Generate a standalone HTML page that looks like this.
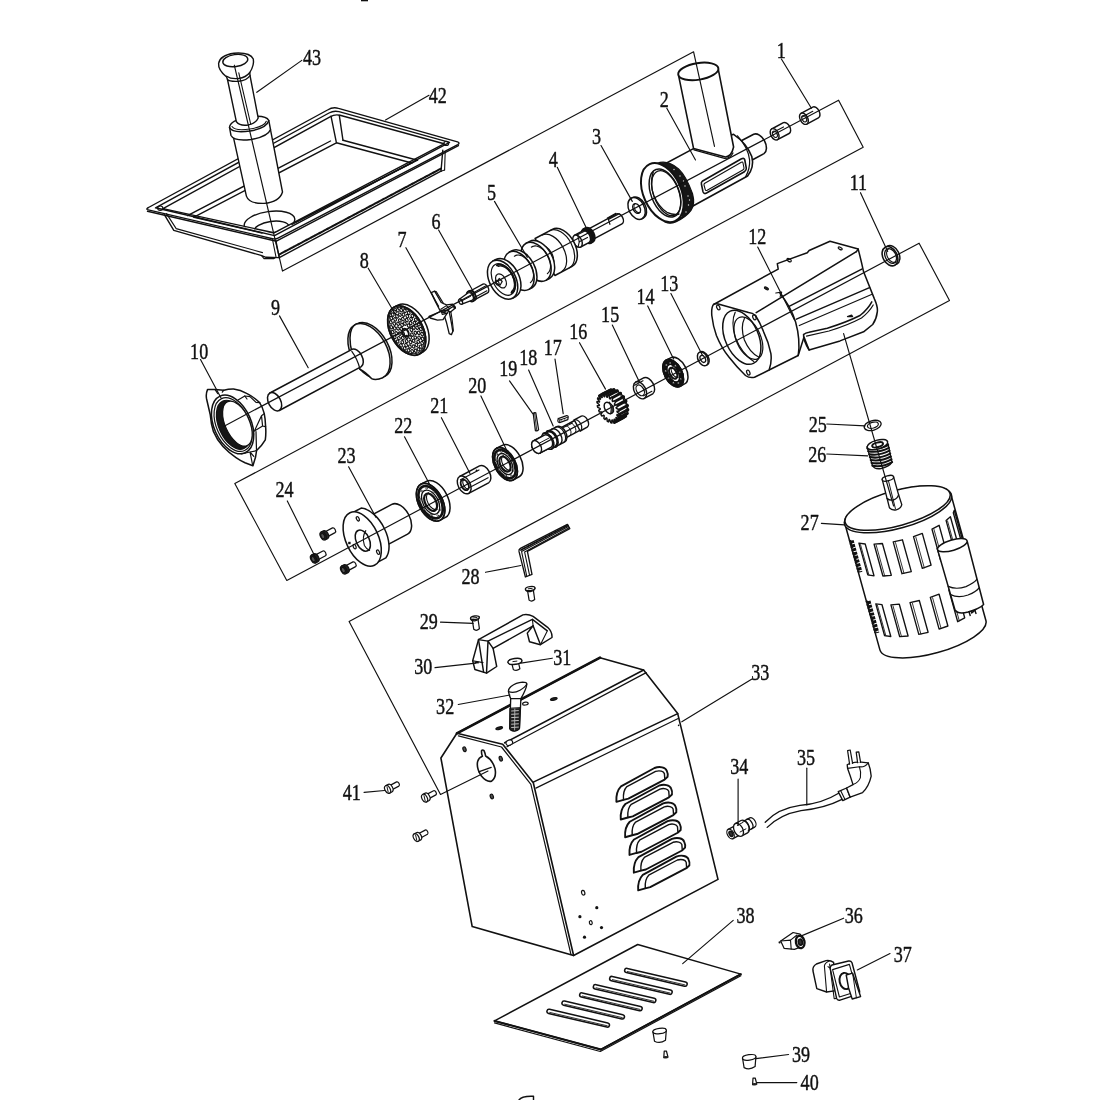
<!DOCTYPE html>
<html><head><meta charset="utf-8"><title>Exploded view</title>
<style>
html,body{margin:0;padding:0;background:#fff;}
body{width:1100px;height:1100px;overflow:hidden;font-family:"Liberation Serif",serif;}
svg{display:block;filter:grayscale(1)}
svg text{font-family:"Liberation Serif",serif;fill:#111;stroke:#111;stroke-width:0.45px}
</style></head><body>
<svg width="1100" height="1100" viewBox="0 0 1100 1100" fill="none" stroke="#111" stroke-width="1.59" stroke-linecap="round" stroke-linejoin="round">
<rect x="0" y="0" width="1100" height="1100" fill="#fff" stroke="none"/>
<ellipse cx="269.5" cy="222.3" rx="25.5" ry="10.8" transform="rotate(-8 269.5 222.3)" stroke-width="1.40"/>
<ellipse cx="271.5" cy="228.6" rx="17.5" ry="7.2" transform="rotate(-8 271.5 228.6)" stroke-width="1.40"/>
<g stroke="none" fill="#fff"><path d="M162.5,208.5 L273.5,233.8 L445,143.5 L459.1,142.7 L442,172 L279.5,258 L262,256 L174,231 L146.7,209.1 Z"/></g>
<path d="M147.2,209.6 Q146.2,208.6 148.5,207.5 L327.5,110 Q333,106.6 338.5,108.4 L457.5,141.8 Q460.3,142.9 457.8,144.6 L278,238.2 Q275.5,239.6 272.5,238.7 Z" stroke-width="1.40" />
<path d="M155.5,207.8 L329,113 Q334,110.2 339,111.7 L449.5,142.3 L274.5,235.6 Z" stroke-width="1.40" />
<path d="M163,208.6 L330,116.8 Q335,114 340,115.3 L444,143.8 L274,232.8 Z" stroke-width="1.40" />
<path d="M458.4,145.6 L276.4,241.2 L147.5,211.2" stroke-width="1.40" />
<ellipse cx="160.3" cy="208.2" rx="2.6" ry="2.2" stroke-width="1.10"/>
<ellipse cx="446.3" cy="143.4" rx="2.4" ry="2.0" stroke-width="1.10"/>
<path d="M331,116.2 L336.2,141.6" stroke-width="1.40" />
<path d="M339.3,115.4 L343,140.4" stroke-width="1.40" />
<path d="M343,140.2 L417.5,160.2" stroke-width="1.40" />
<path d="M336.4,142.8 L411.8,163" stroke-width="1.40" />
<path d="M336.4,142.8 L194,217.2" stroke-width="1.40" />
<path d="M330.5,141 L187.5,215.6" stroke-width="1.40" />
<path d="M194,217.2 L262,233" stroke-width="1.40" />
<path d="M417.5,160.2 L292,224.5" stroke-width="1.40" />
<path d="M411.8,163 L296,222" stroke-width="1.40" />
<path d="M164.5,214.8 L173.8,230.3 L261,255.4 L266,257.3 L279.3,257.6" stroke-width="1.40" />
<path d="M166.5,213.6 L176.2,228.6 L262.5,252.6" stroke-width="1.10" />
<path d="M262,256.2 L264,258.6 L274,258.6 L275.5,257.6" stroke-width="1.10" />
<path d="M275.8,240.5 L279.3,257.6" stroke-width="1.40" />
<path d="M272.5,239.5 L276,257" stroke-width="1.10" />
<path d="M279.3,257.6 L441,171.2" stroke-width="1.40" />
<path d="M279,254.6 L441,168.6" stroke-width="2.07" stroke-dasharray="2.2 0.8"/>
<path d="M441,171.2 L442.8,150.2" stroke-width="1.40" />
<path d="M444.6,170 L445.2,151.2" stroke-width="1.10" />
<path d="M441,171.2 L444.6,170" stroke-width="1.10" />
<path d="M233.6,138.2 L246.4,196.1 Q249,203.8 264.1,203.4 Q279.5,202 282.5,192 L270.3,128.6 Z" stroke-width="1.40" fill="#fff" />
<path d="M229.5,127.3 L231,135.5 Q234,141.5 251,139.5 Q268,136.5 270.5,129.5 L268.8,120.5 Q266,114.5 248,117 Q230,120.5 229.5,127.3 Z" stroke-width="1.40" fill="#fff" />
<path d="M229.5,127.3 Q232,133.5 250,131 Q267,128 268.8,120.5" stroke-width="1.40" />
<path d="M232,126.5 Q235,131.2 250,129 Q264.5,126.5 266.3,121.2" stroke-width="1.10" />
<path d="M227.5,79.5 L236.4,121.8 Q240,126.2 248,125 Q256,123.5 258.2,118 L250,75.5 Z" stroke-width="1.40" fill="#fff" />
<path d="M226.6,77 Q218,70 218.6,63.5 Q220,55 234,53.2 Q250,52 253.3,59 Q254.5,65 249.8,72.5 L250,75.5 Q247,80.5 238.5,81.3 Q229.5,81.8 227.5,79.5 Z" stroke-width="1.40" fill="#fff" />
<ellipse cx="235.3" cy="60.6" rx="12.6" ry="6.0" transform="rotate(-8 235.3 60.6)" stroke-width="1.40"/>
<path d="M226.6,76.2 Q231,79.3 238.5,78.5 Q246,77.5 249.8,72.5" stroke-width="1.40" />
<path d="M238.8,72.8 L250.8,124.5" stroke-width="1.10" />
<path d="M741.3,140.8 L753.7,134.2 A11.0,6.8 62.0 0 1 764.0,153.6 L751.7,160.2 Z" stroke-width="1.59" fill="#fff" />
<path d="M660.5,166.2 L693,148.9 L733.6,134.3 Q746.5,143 751.8,156.5 Q754.5,167 747.6,176 L693.4,205.8 L676,216 Z" stroke-width="1.59" fill="#fff" />
<path d="M737.5,135.8 Q748.5,148 749.6,160 Q750.2,168.5 745.5,177" stroke-width="1.22" />
<path d="M702.2,181.3 L741.5,158.8 Q744.3,157.5 744.8,160 L746.3,168.2 Q746.6,170.4 744.4,171.7 L706.5,193 Q703.6,194.4 702.9,191.4 L701.4,184 Q701,182.2 702.2,181.3 Z" stroke-width="1.59" />
<path d="M704.4,183.4 L741.3,162.2 Q742.7,161.6 743,163 L744,168 Q744.2,169.3 742.8,170.1 L707.2,190.2 Q705.6,191 705.2,189.4 L704,185 Q703.8,183.9 704.4,183.4 Z" stroke-width="1.10" />
<path d="M678.6,75.7 L693.6,148.6 L725.5,157 Q731.5,156.5 733.6,147 L718.2,68.9 Z" stroke-width="1.59" fill="#fff" />
<ellipse cx="698.3" cy="71.4" rx="20.3" ry="8.3" transform="rotate(-9 698.3 71.4)" stroke-width="1.95" fill="#fff"/>
<path d="M694,149.8 L724.5,158.4 Q730,158.7 733,153" stroke-width="1.22" />
<path d="M657,163.5 C664,160.5 672,163.5 678.6,168.9 C684,174 689,184 692.5,193.6 C694.5,201 693.5,207 691,210.4 C688,214.5 682,219 675.7,222 C672,223.5 668,223.5 665,222 L664,193 Z" stroke-width="1.22" fill="#161616" />
<circle cx="680.0" cy="176.0" r="0.7" fill="#ddd" stroke="none"/>
<circle cx="685.0" cy="186.0" r="0.7" fill="#ddd" stroke="none"/>
<circle cx="688.0" cy="196.0" r="0.7" fill="#ddd" stroke="none"/>
<circle cx="688.5" cy="205.0" r="0.7" fill="#ddd" stroke="none"/>
<circle cx="686.0" cy="212.0" r="0.7" fill="#ddd" stroke="none"/>
<circle cx="689.5" cy="200.0" r="0.7" fill="#ddd" stroke="none"/>
<circle cx="683.5" cy="181.0" r="0.7" fill="#ddd" stroke="none"/>
<circle cx="674.0" cy="169.5" r="0.7" fill="#ddd" stroke="none"/>
<circle cx="681.0" cy="216.0" r="0.7" fill="#ddd" stroke="none"/>
<ellipse cx="662.3" cy="192.6" rx="18.8" ry="31.2" transform="rotate(-24 662.3 192.6)" stroke-width="1.95" fill="#fff"/>
<ellipse cx="665.0" cy="193.0" rx="14.0" ry="25.2" transform="rotate(-21 665.0 193.0)" stroke-width="1.46"/>
<ellipse cx="666.2" cy="193.2" rx="12.6" ry="23.6" transform="rotate(-21 666.2 193.2)" stroke-width="1.22"/>
<path d="M653.2,172 Q649.5,184 653.8,195.5 Q659,207.5 667,212.3 Q674,215.5 679,214" stroke-width="1.34" />
<path d="M801.0,113.3 L812.7,107.1 A6.1,3.8 62.0 0 1 818.4,117.9 L806.8,124.1 Z" stroke-width="1.46" fill="#fff" />
<ellipse cx="803.9" cy="118.7" rx="3.8" ry="6.1" transform="rotate(-28.05 803.9 118.7)" stroke-width="1.46" fill="#fff"/>
<ellipse cx="804.2" cy="118.7" rx="2.1" ry="3.4" transform="rotate(-28.05 804.2 118.7)" stroke-width="1.10"/>
<line x1="802.2" y1="117.0" x2="812.8" y2="111.3" stroke-width="1.10" />
<path d="M771.7,129.0 L783.4,122.7 A6.1,3.8 62.0 0 1 789.1,133.5 L777.5,139.7 Z" stroke-width="1.46" fill="#fff" />
<ellipse cx="774.6" cy="134.3" rx="3.8" ry="6.1" transform="rotate(-28.05 774.6 134.3)" stroke-width="1.46" fill="#fff"/>
<ellipse cx="774.9" cy="134.3" rx="2.1" ry="3.4" transform="rotate(-28.05 774.9 134.3)" stroke-width="1.10"/>
<line x1="772.9" y1="132.6" x2="783.5" y2="126.9" stroke-width="1.10" />
<ellipse cx="637.9" cy="207.8" rx="7.7" ry="11.6" transform="rotate(-28.05 637.9 207.8)" stroke-width="1.46" fill="#fff"/>
<ellipse cx="636.6" cy="208.5" rx="7.7" ry="11.6" transform="rotate(-28.05 636.6 208.5)" stroke-width="1.46" fill="#fff"/>
<ellipse cx="636.6" cy="208.5" rx="3.4" ry="5.2" transform="rotate(-28.05 636.6 208.5)" stroke-width="1.46"/>
<path d="M635.4,203.5 A5.0,3.3 62.0 0 0 640.2,212.3" stroke-width="1.10" />
<path d="M585.0,230.9 L616.7,213.9 A5.6,3.5 62.0 0 1 622.0,223.8 L590.2,240.8 Z" stroke-width="1.46" fill="#fff" />
<path d="M608.4,219.4 L609.9,224.3" stroke-width="1.22" />
<path d="M608.4,219.4 L619.2,213.7 M607.4,218.0 L615.9,213.4" stroke-width="1.22" />
<path d="M583.6,229.3 L585.5,228.3 A7.6,4.7 62.0 0 1 592.7,241.7 L590.7,242.8 Z" stroke-width="2.44" fill="#222" />
<ellipse cx="587.2" cy="236.0" rx="4.7" ry="7.6" transform="rotate(-28.05 587.2 236.0)" stroke-width="2.44" fill="#222"/>
<path d="M574.3,235.4 L582.7,230.9 A6.6,4.1 62.0 0 1 588.9,242.6 L580.6,247.0 Z" stroke-width="1.46" fill="#fff" />
<ellipse cx="577.5" cy="241.2" rx="4.1" ry="6.6" transform="rotate(-28.05 577.5 241.2)" stroke-width="1.46" fill="#fff"/>
<line x1="577.5" y1="234.8" x2="585.9" y2="230.4" stroke-width="1.10" />
<line x1="579.3" y1="241.7" x2="587.5" y2="237.4" stroke-width="1.10" />
<line x1="577.5" y1="234.8" x2="579.3" y2="241.7" stroke-width="1.10" />
<line x1="579.3" y1="241.7" x2="578.0" y2="247.4" stroke-width="1.10" />
<path d="M535.1,238.5 L552.3,229.3 A21.0,13.0 62.0 0 1 572.1,266.4 L554.9,275.5 Z" stroke-width="1.52" fill="#fff" />
<path d="M549.7,230.7 A21.0,13.0 62.0 0 1 569.4,267.8" stroke-width="1.22" />
<path d="M542.3,235.0 A20.7,12.8 62.0 0 1 561.8,271.5" stroke-width="1.22" />
<path d="M499.6,267.9 L540.2,246.3 A11.5,7.1 62.0 0 1 551.0,266.6 L510.4,288.2 Z" stroke-width="1.22" fill="#fff" />
<path d="M526.1,243.3 L529.7,241.4 A21.0,13.0 62.0 0 1 549.4,278.5 L545.9,280.3 Z" stroke-width="1.52" fill="#fff" />
<ellipse cx="536.0" cy="261.8" rx="13.0" ry="21.0" transform="rotate(-28.05 536.0 261.8)" stroke-width="1.52" fill="#fff"/>
<path d="M531.4,247.1 C531.8,246.9 532.8,246.3 533.7,246.1 C534.5,245.9 535.4,245.9 536.4,246.0 C537.3,246.2 538.3,246.5 539.3,247.0 C540.2,247.4 541.2,248.1 542.1,248.8 C543.1,249.5 544.0,250.4 544.9,251.4 C545.7,252.4 546.5,253.5 547.2,254.6 C547.9,255.8 548.5,257.0 549.0,258.3 C549.5,259.5 549.9,260.8 550.1,262.0 C550.4,263.3 550.6,264.5 550.6,265.7 C550.6,266.8 550.5,268.0 550.2,269.0 C550.0,270.0 549.6,270.9 549.1,271.7 C548.7,272.4 547.7,273.3 547.4,273.6" stroke-width="1.22" />
<path d="M509.1,252.3 L512.7,250.5 A21.0,13.0 62.0 0 1 532.4,287.5 L528.9,289.4 Z" stroke-width="1.52" fill="#fff" />
<ellipse cx="519.0" cy="270.9" rx="13.0" ry="21.0" transform="rotate(-28.05 519.0 270.9)" stroke-width="1.52" fill="#fff"/>
<path d="M514.4,256.2 C514.8,256.0 515.8,255.3 516.7,255.1 C517.5,255.0 518.4,254.9 519.4,255.1 C520.3,255.2 521.3,255.6 522.3,256.0 C523.2,256.5 524.2,257.1 525.1,257.9 C526.1,258.6 527.0,259.5 527.9,260.5 C528.7,261.5 529.5,262.6 530.2,263.7 C530.9,264.9 531.5,266.1 532.0,267.3 C532.5,268.6 532.9,269.9 533.1,271.1 C533.4,272.3 533.6,273.6 533.6,274.7 C533.6,275.9 533.5,277.0 533.2,278.0 C533.0,279.0 532.6,279.9 532.1,280.7 C531.7,281.5 530.7,282.3 530.4,282.6" stroke-width="1.22" />
<path d="M492.7,261.2 L495.9,259.5 A21.0,13.0 62.0 0 1 515.7,296.6 L512.5,298.2 Z" stroke-width="1.52" fill="#fff" />
<ellipse cx="502.6" cy="279.7" rx="13.0" ry="21.0" transform="rotate(-28.05 502.6 279.7)" stroke-width="1.52" fill="#fff"/>
<ellipse cx="503.2" cy="279.5" rx="10.2" ry="17.0" transform="rotate(-28.05 503.2 279.5)" stroke-width="1.22"/>
<path d="M496.9,265.3 A15.6,9.4 62.0 0 1 511.5,292.9" stroke-width="1.95" />
<path d="M498.1,266.4 A14.2,8.5 62.0 0 1 511.5,291.4" stroke-width="1.22" />
<ellipse cx="501.0" cy="280.9" rx="4.7" ry="7.6" transform="rotate(-28.05 501.0 280.9)" stroke-width="1.22"/>
<path d="M495.8,282.9 L499.2,278.5 L502.2,281.5 L500.0,285.3 Z" stroke-width="1.22" fill="#fff" />
<ellipse cx="497.2" cy="282.7" rx="1.6" ry="2.6" transform="rotate(-28.05 497.2 282.7)" stroke-width="1.10"/>
<path d="M470.2,291.0 L483.0,284.2 A4.9,3.0 62.0 0 1 487.6,292.9 L474.8,299.7 Z" stroke-width="1.34" fill="#fff" />
<ellipse cx="472.5" cy="295.4" rx="3.0" ry="4.9" transform="rotate(-28.05 472.5 295.4)" stroke-width="1.34" fill="#fff"/>
<line x1="473.9" y1="292.4" x2="486.0" y2="285.8" stroke-width="1.10" />
<line x1="474.9" y1="297.2" x2="486.9" y2="290.8" stroke-width="1.10" />
<path d="M467.8,291.7 L469.6,290.8 A5.4,3.3 62.0 0 1 474.7,300.3 L472.9,301.3 Z" stroke-width="1.71" fill="#fff" />
<ellipse cx="470.4" cy="296.5" rx="3.3" ry="5.4" transform="rotate(-28.05 470.4 296.5)" stroke-width="1.71" fill="#fff"/>
<path d="M459.3,299.2 L468.3,292.8 A4.2,2.6 62.0 0 1 472.3,300.2 L461.9,304.2 Z" stroke-width="1.34" fill="#fff" />
<ellipse cx="460.6" cy="301.7" rx="1.7" ry="2.8" transform="rotate(-28.05 460.6 301.7)" stroke-width="1.34" fill="#fff"/>
<line x1="461.6" y1="301.1" x2="470.6" y2="296.3" stroke-width="0.98" />
<path d="M431.2,292.6 L434.6,291.2 Q437.5,296 441.2,302.5 L446.5,304.8 L452.8,304.2 L453.6,306.8 L447.5,310 L440.5,311.5 Q435,301 431.2,292.6 Z" stroke-width="1.34" fill="#fff" />
<path d="M434.6,291.2 L436.2,291.6 Q440.5,298.5 443.5,303.6" stroke-width="1.10" />
<path d="M443.2,312.5 L448.6,309.6 Q450.8,318 452.8,331.5 L451.4,334.6 L449.2,333.6 Q446.8,322 443.2,312.5 Z" stroke-width="1.34" fill="#fff" />
<path d="M448.6,309.6 L450.6,310.2 Q452.4,320 453.4,330.5 L452.8,331.5" stroke-width="1.10" />
<path d="M429.2,316.4 L440.5,311.5 L447,313.5 L443,319.6 L437.5,320.2 L430.2,318 Z" stroke-width="1.34" fill="#fff" />
<path d="M447.5,310 L454.4,305.8 L455.4,308 L450.2,312.2 Z" stroke-width="1.34" fill="#fff" />
<path d="M440.8,309.2 L446.4,305.6 L449.4,308.4 L447.2,313.4 L442.2,314.4 Z" stroke-width="1.10" />
<circle cx="454.6" cy="307.6" r="1.3" fill="#111" stroke="none"/>
<circle cx="429.6" cy="316.8" r="1.1" fill="#111" stroke="none"/>
<path d="M394.2,307.2 L398.3,305.0 A26.6,16.2 62.0 0 1 423.3,351.9 L419.2,354.1 Z" stroke-width="1.52" fill="#fff" />
<ellipse cx="406.7" cy="330.6" rx="16.2" ry="26.6" transform="rotate(-28.05 406.7 330.6)" stroke-width="1.52" fill="#fff"/>
<ellipse cx="406.7" cy="330.6" rx="16.2" ry="26.6" transform="rotate(-28.05 406.7 330.6)" stroke-width="1.83" fill="#fff"/>
<ellipse cx="418.7" cy="324.3" rx="1.25" ry="1.75" transform="rotate(-28 418.7 324.3)" stroke-width="1.15"/>
<ellipse cx="420.8" cy="329.1" rx="1.25" ry="1.75" transform="rotate(-28 420.8 329.1)" stroke-width="1.15"/>
<ellipse cx="422.1" cy="334.1" rx="1.25" ry="1.75" transform="rotate(-28 422.1 334.1)" stroke-width="1.15"/>
<ellipse cx="422.6" cy="338.9" rx="1.25" ry="1.75" transform="rotate(-28 422.6 338.9)" stroke-width="1.15"/>
<ellipse cx="422.1" cy="343.1" rx="1.25" ry="1.75" transform="rotate(-28 422.1 343.1)" stroke-width="1.15"/>
<ellipse cx="420.7" cy="346.7" rx="1.25" ry="1.75" transform="rotate(-28 420.7 346.7)" stroke-width="1.15"/>
<ellipse cx="418.5" cy="349.3" rx="1.25" ry="1.75" transform="rotate(-28 418.5 349.3)" stroke-width="1.15"/>
<ellipse cx="415.6" cy="350.8" rx="1.25" ry="1.75" transform="rotate(-28 415.6 350.8)" stroke-width="1.15"/>
<ellipse cx="412.2" cy="351.2" rx="1.25" ry="1.75" transform="rotate(-28 412.2 351.2)" stroke-width="1.15"/>
<ellipse cx="408.5" cy="350.4" rx="1.25" ry="1.75" transform="rotate(-28 408.5 350.4)" stroke-width="1.15"/>
<ellipse cx="404.7" cy="348.4" rx="1.25" ry="1.75" transform="rotate(-28 404.7 348.4)" stroke-width="1.15"/>
<ellipse cx="401.0" cy="345.4" rx="1.25" ry="1.75" transform="rotate(-28 401.0 345.4)" stroke-width="1.15"/>
<ellipse cx="397.6" cy="341.5" rx="1.25" ry="1.75" transform="rotate(-28 397.6 341.5)" stroke-width="1.15"/>
<ellipse cx="394.7" cy="337.0" rx="1.25" ry="1.75" transform="rotate(-28 394.7 337.0)" stroke-width="1.15"/>
<ellipse cx="392.6" cy="332.1" rx="1.25" ry="1.75" transform="rotate(-28 392.6 332.1)" stroke-width="1.15"/>
<ellipse cx="391.3" cy="327.2" rx="1.25" ry="1.75" transform="rotate(-28 391.3 327.2)" stroke-width="1.15"/>
<ellipse cx="390.8" cy="322.4" rx="1.25" ry="1.75" transform="rotate(-28 390.8 322.4)" stroke-width="1.15"/>
<ellipse cx="391.3" cy="318.1" rx="1.25" ry="1.75" transform="rotate(-28 391.3 318.1)" stroke-width="1.15"/>
<ellipse cx="392.7" cy="314.6" rx="1.25" ry="1.75" transform="rotate(-28 392.7 314.6)" stroke-width="1.15"/>
<ellipse cx="394.9" cy="311.9" rx="1.25" ry="1.75" transform="rotate(-28 394.9 311.9)" stroke-width="1.15"/>
<ellipse cx="397.8" cy="310.4" rx="1.25" ry="1.75" transform="rotate(-28 397.8 310.4)" stroke-width="1.15"/>
<ellipse cx="401.2" cy="310.1" rx="1.25" ry="1.75" transform="rotate(-28 401.2 310.1)" stroke-width="1.15"/>
<ellipse cx="404.9" cy="310.9" rx="1.25" ry="1.75" transform="rotate(-28 404.9 310.9)" stroke-width="1.15"/>
<ellipse cx="408.7" cy="312.9" rx="1.25" ry="1.75" transform="rotate(-28 408.7 312.9)" stroke-width="1.15"/>
<ellipse cx="412.4" cy="315.9" rx="1.25" ry="1.75" transform="rotate(-28 412.4 315.9)" stroke-width="1.15"/>
<ellipse cx="415.8" cy="319.8" rx="1.25" ry="1.75" transform="rotate(-28 415.8 319.8)" stroke-width="1.15"/>
<ellipse cx="417.1" cy="327.8" rx="1.25" ry="1.75" transform="rotate(-28 417.1 327.8)" stroke-width="1.15"/>
<ellipse cx="418.7" cy="332.9" rx="1.25" ry="1.75" transform="rotate(-28 418.7 332.9)" stroke-width="1.15"/>
<ellipse cx="419.1" cy="337.7" rx="1.25" ry="1.75" transform="rotate(-28 419.1 337.7)" stroke-width="1.15"/>
<ellipse cx="418.3" cy="341.8" rx="1.25" ry="1.75" transform="rotate(-28 418.3 341.8)" stroke-width="1.15"/>
<ellipse cx="416.4" cy="344.9" rx="1.25" ry="1.75" transform="rotate(-28 416.4 344.9)" stroke-width="1.15"/>
<ellipse cx="413.5" cy="346.5" rx="1.25" ry="1.75" transform="rotate(-28 413.5 346.5)" stroke-width="1.15"/>
<ellipse cx="409.9" cy="346.6" rx="1.25" ry="1.75" transform="rotate(-28 409.9 346.6)" stroke-width="1.15"/>
<ellipse cx="406.1" cy="345.1" rx="1.25" ry="1.75" transform="rotate(-28 406.1 345.1)" stroke-width="1.15"/>
<ellipse cx="402.3" cy="342.2" rx="1.25" ry="1.75" transform="rotate(-28 402.3 342.2)" stroke-width="1.15"/>
<ellipse cx="398.9" cy="338.2" rx="1.25" ry="1.75" transform="rotate(-28 398.9 338.2)" stroke-width="1.15"/>
<ellipse cx="396.3" cy="333.4" rx="1.25" ry="1.75" transform="rotate(-28 396.3 333.4)" stroke-width="1.15"/>
<ellipse cx="394.7" cy="328.4" rx="1.25" ry="1.75" transform="rotate(-28 394.7 328.4)" stroke-width="1.15"/>
<ellipse cx="394.3" cy="323.6" rx="1.25" ry="1.75" transform="rotate(-28 394.3 323.6)" stroke-width="1.15"/>
<ellipse cx="395.1" cy="319.4" rx="1.25" ry="1.75" transform="rotate(-28 395.1 319.4)" stroke-width="1.15"/>
<ellipse cx="397.0" cy="316.4" rx="1.25" ry="1.75" transform="rotate(-28 397.0 316.4)" stroke-width="1.15"/>
<ellipse cx="399.9" cy="314.7" rx="1.25" ry="1.75" transform="rotate(-28 399.9 314.7)" stroke-width="1.15"/>
<ellipse cx="403.5" cy="314.6" rx="1.25" ry="1.75" transform="rotate(-28 403.5 314.6)" stroke-width="1.15"/>
<ellipse cx="407.3" cy="316.1" rx="1.25" ry="1.75" transform="rotate(-28 407.3 316.1)" stroke-width="1.15"/>
<ellipse cx="411.1" cy="319.0" rx="1.25" ry="1.75" transform="rotate(-28 411.1 319.0)" stroke-width="1.15"/>
<ellipse cx="414.5" cy="323.0" rx="1.25" ry="1.75" transform="rotate(-28 414.5 323.0)" stroke-width="1.15"/>
<ellipse cx="413.7" cy="327.6" rx="1.25" ry="1.75" transform="rotate(-28 413.7 327.6)" stroke-width="1.15"/>
<ellipse cx="415.4" cy="332.8" rx="1.25" ry="1.75" transform="rotate(-28 415.4 332.8)" stroke-width="1.15"/>
<ellipse cx="415.3" cy="337.5" rx="1.25" ry="1.75" transform="rotate(-28 415.3 337.5)" stroke-width="1.15"/>
<ellipse cx="413.6" cy="340.8" rx="1.25" ry="1.75" transform="rotate(-28 413.6 340.8)" stroke-width="1.15"/>
<ellipse cx="410.5" cy="342.1" rx="1.25" ry="1.75" transform="rotate(-28 410.5 342.1)" stroke-width="1.15"/>
<ellipse cx="406.6" cy="341.2" rx="1.25" ry="1.75" transform="rotate(-28 406.6 341.2)" stroke-width="1.15"/>
<ellipse cx="402.8" cy="338.1" rx="1.25" ry="1.75" transform="rotate(-28 402.8 338.1)" stroke-width="1.15"/>
<ellipse cx="399.7" cy="333.6" rx="1.25" ry="1.75" transform="rotate(-28 399.7 333.6)" stroke-width="1.15"/>
<ellipse cx="398.0" cy="328.5" rx="1.25" ry="1.75" transform="rotate(-28 398.0 328.5)" stroke-width="1.15"/>
<ellipse cx="398.1" cy="323.8" rx="1.25" ry="1.75" transform="rotate(-28 398.1 323.8)" stroke-width="1.15"/>
<ellipse cx="399.8" cy="320.5" rx="1.25" ry="1.75" transform="rotate(-28 399.8 320.5)" stroke-width="1.15"/>
<ellipse cx="402.9" cy="319.1" rx="1.25" ry="1.75" transform="rotate(-28 402.9 319.1)" stroke-width="1.15"/>
<ellipse cx="406.8" cy="320.1" rx="1.25" ry="1.75" transform="rotate(-28 406.8 320.1)" stroke-width="1.15"/>
<ellipse cx="410.6" cy="323.1" rx="1.25" ry="1.75" transform="rotate(-28 410.6 323.1)" stroke-width="1.15"/>
<ellipse cx="411.4" cy="329.9" rx="1.25" ry="1.75" transform="rotate(-28 411.4 329.9)" stroke-width="1.15"/>
<ellipse cx="412.0" cy="334.6" rx="1.25" ry="1.75" transform="rotate(-28 412.0 334.6)" stroke-width="1.15"/>
<ellipse cx="410.1" cy="337.4" rx="1.25" ry="1.75" transform="rotate(-28 410.1 337.4)" stroke-width="1.15"/>
<ellipse cx="406.6" cy="337.1" rx="1.25" ry="1.75" transform="rotate(-28 406.6 337.1)" stroke-width="1.15"/>
<ellipse cx="403.1" cy="333.7" rx="1.25" ry="1.75" transform="rotate(-28 403.1 333.7)" stroke-width="1.15"/>
<ellipse cx="401.3" cy="328.9" rx="1.25" ry="1.75" transform="rotate(-28 401.3 328.9)" stroke-width="1.15"/>
<ellipse cx="402.0" cy="324.9" rx="1.25" ry="1.75" transform="rotate(-28 402.0 324.9)" stroke-width="1.15"/>
<ellipse cx="404.9" cy="323.6" rx="1.25" ry="1.75" transform="rotate(-28 404.9 323.6)" stroke-width="1.15"/>
<ellipse cx="408.6" cy="325.6" rx="1.25" ry="1.75" transform="rotate(-28 408.6 325.6)" stroke-width="1.15"/>
<ellipse cx="405.5" cy="332.8" rx="2.9" ry="4.2" transform="rotate(-28.05 405.5 332.8)" stroke-width="1.95"/>
<ellipse cx="406.7" cy="330.6" rx="15.2" ry="25.0" transform="rotate(-28.05 406.7 330.6)" stroke-width="0.98"/>
<ellipse cx="370.9" cy="350.1" rx="17.9" ry="29.8" transform="rotate(-28.05 370.9 350.1)" stroke-width="1.52" fill="#fff"/>
<ellipse cx="369.0" cy="351.1" rx="17.9" ry="29.8" transform="rotate(-28.05 369.0 351.1)" stroke-width="1.52" fill="#fff"/>
<path d="M351.8,351.4 Q349.6,343 350.4,332 Q351.6,326 356.2,324 L369.6,352 L383,377.4 Q376,380.4 371.5,378.6 Q365.5,372 360,369.2 Z" fill="#fff" stroke="none"/>
<path d="M356.2,324 Q350.2,326.5 350,338 Q350,346 351.8,351.4" stroke-width="1.52" />
<path d="M383,377.6 Q376,380.6 371.5,378.6 Q365.5,372 360,369.2" stroke-width="1.52" />
<path d="M269.9,393.0 L352.0,349.3 A9.9,6.1 62.0 0 1 361.3,366.7 L279.3,410.5 Z" stroke-width="1.52" fill="#fff" />
<ellipse cx="274.6" cy="401.7" rx="6.1" ry="9.9" transform="rotate(-28.05 274.6 401.7)" stroke-width="1.52" fill="#fff"/>
<path d="M351.8,351.4 Q357.5,359 360,369.2" stroke-width="1.22" />
<path d="M207.5,389.6 Q205.6,394 206.6,399 L210.2,414.5 Q211,424 213.4,431.4 Q217,440 223,446.6 Q229,453 236,457.6 Q241,461 245,462.8 L252.9,465.7 L255.5,457.3 L256.6,450.5 Q262,445.5 265.3,439.8 Q266.2,433 265.6,426.4 Q265.4,419 264.2,413.4 Q262.6,407 259.6,402.6 Q254,397 246.6,393.4 Q240.5,390 233.6,389.1 Q228.6,389 223.8,390.2 L215.1,389.6 Z" stroke-width="1.52" fill="#fff" />
<path d="M222.3,392.2 L223.8,390.2 M215.1,389.6 L217.8,393.6" stroke-width="1.22" />
<path d="M238,400 L244.8,396 L250,396.6 L256,402.4 L259.8,402.7" stroke-width="1.22" />
<path d="M244.8,396 L247,399" stroke-width="1.22" />
<path d="M254.4,431.1 L261.5,415.8 L264.2,413.6 M254.4,431.1 L262.6,426 L265.3,426.7 M256,431.6 L256.5,450.7 M261.5,415.8 L262.6,426" stroke-width="1.22" />
<path d="M241.3,454 L250,452 L256.5,450.7 M250,452 L252.7,465.5 M250,452 L253.8,456.4" stroke-width="1.22" />
<ellipse cx="232.6" cy="424.4" rx="18.6" ry="31.0" transform="rotate(-24 232.6 424.4)" stroke-width="1.52" fill="#fff"/>
<ellipse cx="233.1" cy="424.6" rx="16.6" ry="28.4" transform="rotate(-24 233.1 424.6)" stroke-width="1.22"/>
<ellipse cx="233.4" cy="424.8" rx="14.6" ry="26.0" transform="rotate(-24 233.4 424.8)" stroke-width="1.22" fill="#161616"/>
<ellipse cx="237.4" cy="423.6" rx="12.2" ry="24.0" transform="rotate(-24 237.4 423.6)" stroke-width="1.22" fill="#fff"/>
<path d="M713.6,304.5 L778.2,269.1 L777.3,263.6 L807.3,252.7 L809.1,250.5 L830,241.3 L858.2,249.1 Q861.5,262 863.6,271.8 L874.5,299.1 Q878,307 877.3,311.8 Q876.5,319 872.7,324.5 L863.6,331.8 L840,340.9 L809.1,350 L804,337 L798.2,355.5 L769.1,370 L755.5,315.5 Z" stroke-width="1.52" fill="#fff" />
<line x1="756.2" y1="312.6" x2="856.4" y2="251.6" stroke-width="1.52" />
<path d="M856.4,251.6 L858.2,249.1" stroke-width="1.52" />
<line x1="789.1" y1="306.4" x2="861.8" y2="269.1" stroke-width="1.52" />
<line x1="796.4" y1="319.1" x2="869.5" y2="287.6" stroke-width="1.52" />
<line x1="799.3" y1="325.5" x2="871.5" y2="294.5" stroke-width="1.22" />
<path d="M780,293.6 Q790.5,306 795.6,322 Q800.6,340 798.2,355.5" stroke-width="1.52" />
<path d="M775.8,293.0 L781.6,292.2 L780.2,296.4" stroke-width="1.22" />
<path d="M803.6,334.5 Q805.5,332.8 809,332.2 L827.3,328.2 Q846,322.5 860,315.5 Q868,309 871.8,301.8" stroke-width="1.52" />
<path d="M806.5,336.2 L829,331 Q848,325.2 861.5,318 Q869,312.2 873.2,305" stroke-width="1.22" />
<path d="M803.6,334.5 Q803,340 809.1,350" stroke-width="1.52" />
<ellipse cx="766.4" cy="288.4" rx="1.0" ry="2.2" transform="rotate(-62 766.4 288.4)" stroke-width="1.22" fill="#222"/>
<ellipse cx="789.1" cy="260.2" rx="1.3" ry="2.4" transform="rotate(-62 789.1 260.2)" stroke-width="1.22"/>
<ellipse cx="840.2" cy="248.4" rx="1.1" ry="2.2" transform="rotate(-62 840.2 248.4)" stroke-width="1.22"/>
<path d="M847.5,316.6 L851.6,315 L852.6,316.6 Z" stroke-width="1.22" fill="#222" />
<path d="M713.6,304.5 Q711.2,307 711.8,315.5 Q713,326 716.4,335.5 Q721.5,348 729.1,357.3 Q737,367.5 745.5,375.5 Q749.5,378.4 754.5,377.3 L769.1,370 Q772,362 770.9,353.6 Q768.6,342 763.6,331.8 Q760,322.5 755.5,315.5 Q752.5,312.8 748.6,312.6 L718.2,304 Q715.4,303.4 713.6,304.5 Z" stroke-width="1.52" fill="#fff" />
<ellipse cx="741.8" cy="337.3" rx="16.6" ry="28.6" transform="rotate(-24 741.8 337.3)" stroke-width="1.52"/>
<path d="M735.2,312.2 Q730.6,322 735.4,337.5 Q741.6,353.5 753.8,361.6" stroke-width="1.22" />
<ellipse cx="748.4" cy="338.2" rx="12.2" ry="22.6" transform="rotate(-24 748.4 338.2)" stroke-width="1.22"/>
<path d="M744.4,318.6 Q740.2,327 744.4,340 Q749.6,352.5 758.6,357" stroke-width="1.22" />
<ellipse cx="718.3" cy="307.5" rx="1.5" ry="2.5" transform="rotate(-24 718.3 307.5)" stroke-width="1.22"/>
<ellipse cx="754.4" cy="317.4" rx="1.5" ry="2.5" transform="rotate(-24 754.4 317.4)" stroke-width="1.22"/>
<ellipse cx="748.3" cy="372.6" rx="1.5" ry="2.5" transform="rotate(-24 748.3 372.6)" stroke-width="1.22"/>
<path d="M323.3,532.8 L332.5,527.9 A2.7,1.7 62.0 0 1 335.1,532.6 L325.8,537.6 Z" stroke-width="1.22" fill="#fff" />
<path d="M321.1,532.0 L323.4,530.8 A4.4,2.7 62.0 0 1 327.6,538.6 L325.3,539.8 Z" stroke-width="1.22" fill="#222" />
<ellipse cx="323.2" cy="535.9" rx="2.7" ry="4.4" transform="rotate(-28.05 323.2 535.9)" stroke-width="1.22" fill="#222"/>
<ellipse cx="322.8" cy="536.1" rx="1.7" ry="2.8" transform="rotate(-28.05 322.8 536.1)" stroke-width="1.10" fill="#555"/>
<path d="M313.7,555.9 L322.9,551.0 A2.7,1.7 62.0 0 1 325.5,555.7 L316.2,560.7 Z" stroke-width="1.22" fill="#fff" />
<path d="M311.5,555.1 L313.8,553.9 A4.4,2.7 62.0 0 1 318.0,561.7 L315.7,562.9 Z" stroke-width="1.22" fill="#222" />
<ellipse cx="313.6" cy="559.0" rx="2.7" ry="4.4" transform="rotate(-28.05 313.6 559.0)" stroke-width="1.22" fill="#222"/>
<ellipse cx="313.2" cy="559.2" rx="1.7" ry="2.8" transform="rotate(-28.05 313.2 559.2)" stroke-width="1.10" fill="#555"/>
<path d="M343.8,566.8 L353.0,561.9 A2.7,1.7 62.0 0 1 355.6,566.6 L346.3,571.6 Z" stroke-width="1.22" fill="#fff" />
<path d="M341.6,566.0 L343.9,564.8 A4.4,2.7 62.0 0 1 348.1,572.6 L345.8,573.8 Z" stroke-width="1.22" fill="#222" />
<ellipse cx="343.7" cy="569.9" rx="2.7" ry="4.4" transform="rotate(-28.05 343.7 569.9)" stroke-width="1.22" fill="#222"/>
<ellipse cx="343.3" cy="570.1" rx="1.7" ry="2.8" transform="rotate(-28.05 343.3 570.1)" stroke-width="1.10" fill="#555"/>
<path d="M370.6,515.7 L391.8,504.4 A16.8,10.1 62.0 0 1 407.6,534.1 L386.4,545.3 Z" stroke-width="1.52" fill="#fff" />
<path d="M350.1,514.0 L361.2,508.1 A29,16.4 62.0 0 1 385.8,557.9 L374.6,563.8 Z" stroke-width="1.52" fill="#fff" />
<ellipse cx="362.2" cy="539.0" rx="16.2" ry="29.0" transform="rotate(-25 362.2 539.0)" stroke-width="1.52" fill="#fff"/>
<ellipse cx="362.8" cy="540.6" rx="6.6" ry="11.2" transform="rotate(-25 362.8 540.6)" stroke-width="1.52"/>
<path d="M365.8,530.6 Q361.7,537.0 364.4,545.5 Q366.7,549.5 369.6,550.4" stroke-width="1.10" />
<ellipse cx="357.8" cy="518.8" rx="1.3" ry="2.3" transform="rotate(-25 357.8 518.8)" stroke-width="1.22"/>
<ellipse cx="378.1" cy="552.2" rx="1.3" ry="2.3" transform="rotate(-25 378.1 552.2)" stroke-width="1.22"/>
<ellipse cx="354.6" cy="546.6" rx="1.3" ry="2.3" transform="rotate(-25 354.6 546.6)" stroke-width="1.22"/>
<rect x="348.2" y="541.8" width="2.4" height="2.4" fill="#111" stroke="none"/>
<path d="M421.0,484.2 L426.3,481.4 A20.4,11.8 62.0 0 1 445.5,517.4 L440.2,520.2 Z" stroke-width="1.52" fill="#fff" />
<ellipse cx="430.6" cy="502.2" rx="11.8" ry="20.4" transform="rotate(-28.05 430.6 502.2)" stroke-width="1.52" fill="#fff"/>
<ellipse cx="430.6" cy="502.2" rx="11.8" ry="20.4" transform="rotate(-28.05 430.6 502.2)" stroke-width="1.83" fill="#fff"/>
<ellipse cx="430.6" cy="502.2" rx="10.2" ry="17.5" transform="rotate(-28.05 430.6 502.2)" stroke-width="2.68"/>
<ellipse cx="430.6" cy="502.2" rx="7.6" ry="13.1" transform="rotate(-28.05 430.6 502.2)" stroke-width="1.34"/>
<ellipse cx="430.6" cy="502.2" rx="5.4" ry="9.4" transform="rotate(-28.05 430.6 502.2)" stroke-width="2.20" fill="#fff"/>
<circle cx="439.6" cy="500.4" r="0.9" fill="#fff" stroke="#111" stroke-width="0.6"/>
<circle cx="441.1" cy="509.9" r="0.9" fill="#fff" stroke="#111" stroke-width="0.6"/>
<circle cx="437.8" cy="515.7" r="0.9" fill="#fff" stroke="#111" stroke-width="0.6"/>
<circle cx="431.1" cy="515.2" r="0.9" fill="#fff" stroke="#111" stroke-width="0.6"/>
<circle cx="424.1" cy="508.7" r="0.9" fill="#fff" stroke="#111" stroke-width="0.6"/>
<circle cx="420.2" cy="499.1" r="0.9" fill="#fff" stroke="#111" stroke-width="0.6"/>
<circle cx="421.2" cy="490.9" r="0.9" fill="#fff" stroke="#111" stroke-width="0.6"/>
<circle cx="426.5" cy="488.1" r="0.9" fill="#fff" stroke="#111" stroke-width="0.6"/>
<circle cx="433.8" cy="491.8" r="0.9" fill="#fff" stroke="#111" stroke-width="0.6"/>
<path d="M428.4,492.7 A9.4,5.4 62.0 0 0 437.2,509.3" stroke-width="1.10" />
<path d="M459.7,476.5 L479.5,465.9 A9.6,6.0 62.0 0 1 488.6,482.8 L468.7,493.4 Z" stroke-width="1.46" fill="#fff" />
<ellipse cx="464.2" cy="484.9" rx="6.0" ry="9.6" transform="rotate(-28.05 464.2 484.9)" stroke-width="1.46" fill="#fff"/>
<ellipse cx="464.8" cy="484.9" rx="3.5" ry="5.6" transform="rotate(-28.05 464.8 484.9)" stroke-width="1.95"/>
<path d="M463.8,479.6 A5.2,3.2 62.0 0 0 468.6,488.7" stroke-width="1.10" />
<line x1="460.5" y1="479.8" x2="479.0" y2="469.9" stroke-width="1.10" />
<line x1="469.6" y1="487.5" x2="488.1" y2="477.7" stroke-width="1.10" />
<circle cx="476.6" cy="470.6" r="1.0" fill="#111" stroke="none"/>
<path d="M496.6,448.3 L502.8,445.1 A17.8,10.3 62.0 0 1 519.5,476.5 L513.4,479.8 Z" stroke-width="1.52" fill="#fff" />
<ellipse cx="505.0" cy="464.1" rx="10.3" ry="17.8" transform="rotate(-28.05 505.0 464.1)" stroke-width="1.52" fill="#fff"/>
<ellipse cx="505.0" cy="464.1" rx="10.3" ry="17.8" transform="rotate(-28.05 505.0 464.1)" stroke-width="1.83" fill="#fff"/>
<ellipse cx="505.0" cy="464.1" rx="8.9" ry="15.3" transform="rotate(-28.05 505.0 464.1)" stroke-width="2.68"/>
<ellipse cx="505.0" cy="464.1" rx="6.6" ry="11.4" transform="rotate(-28.05 505.0 464.1)" stroke-width="1.34"/>
<ellipse cx="505.0" cy="464.1" rx="4.7" ry="8.2" transform="rotate(-28.05 505.0 464.1)" stroke-width="2.20" fill="#fff"/>
<circle cx="512.8" cy="462.5" r="0.9" fill="#fff" stroke="#111" stroke-width="0.6"/>
<circle cx="514.2" cy="470.7" r="0.9" fill="#fff" stroke="#111" stroke-width="0.6"/>
<circle cx="511.3" cy="475.8" r="0.9" fill="#fff" stroke="#111" stroke-width="0.6"/>
<circle cx="505.4" cy="475.4" r="0.9" fill="#fff" stroke="#111" stroke-width="0.6"/>
<circle cx="499.4" cy="469.7" r="0.9" fill="#fff" stroke="#111" stroke-width="0.6"/>
<circle cx="495.9" cy="461.3" r="0.9" fill="#fff" stroke="#111" stroke-width="0.6"/>
<circle cx="496.8" cy="454.2" r="0.9" fill="#fff" stroke="#111" stroke-width="0.6"/>
<circle cx="501.4" cy="451.7" r="0.9" fill="#fff" stroke="#111" stroke-width="0.6"/>
<circle cx="507.8" cy="455.0" r="0.9" fill="#fff" stroke="#111" stroke-width="0.6"/>
<path d="M503.3,455.6 A8.2,4.7 62.0 0 0 511.1,470.1" stroke-width="1.10" />
<path d="M533.2,413.4 Q534.4,412 535.8,412.8 L538.6,429.6 Q537.4,431.4 535.4,430.6 Z" stroke-width="1.22" fill="#fff" />
<line x1="534.6" y1="413.2" x2="536.8" y2="430.6" stroke-width="0.85" />
<path d="M557.4,429.7 L575.5,420.0 A5.6,3.5 62.0 0 1 580.7,429.9 L562.6,439.6 Z" stroke-width="1.46" fill="#fff" />
<path d="M574.2,419.9 L581.3,416.1 A6.3,3.9 62.0 0 1 587.2,427.2 L580.2,431.0 Z" stroke-width="1.46" fill="#fff" />
<path d="M574.2,419.9 A6.3,3.9 62.0 0 1 580.2,431.0" stroke-width="1.22" />
<path d="M564.4,425.9 A5.6,3.5 62.0 0 1 569.7,435.8" stroke-width="0.98" />
<path d="M569.3,423.3 A5.6,3.5 62.0 0 1 574.5,433.2" stroke-width="0.98" />
<line x1="562.5" y1="428.1" x2="572.5" y2="423.1" stroke-width="0.98" />
<path d="M543.5,433.7 L556.7,426.6 A8.6,5.3 62.0 0 1 564.8,441.8 L551.5,448.8 Z" stroke-width="1.46" fill="#fff" />
<path d="M543.5,433.7 A8.6,5.3 62.0 0 1 551.5,448.8" stroke-width="2.44" />
<path d="M547.4,431.5 A8.6,5.3 62.0 0 1 555.5,446.7" stroke-width="2.68" />
<path d="M551.8,429.2 A8.6,5.3 62.0 0 1 559.9,444.4" stroke-width="1.46" />
<path d="M555.4,427.3 A8.6,5.3 62.0 0 1 563.5,442.5" stroke-width="1.22" />
<path d="M533.4,441.0 L544.4,435.1 A6.9,4.3 62.0 0 1 550.9,447.3 L539.8,453.1 Z" stroke-width="1.46" fill="#fff" />
<ellipse cx="536.6" cy="447.0" rx="4.3" ry="6.9" transform="rotate(-28.05 536.6 447.0)" stroke-width="1.46" fill="#fff"/>
<ellipse cx="547.6" cy="441.2" rx="5.3" ry="8.6" transform="rotate(-28.05 547.6 441.2)" stroke-width="1.46" fill="#fff"/>
<path d="M533.4,441.0 L544.4,435.1 A6.9,4.3 62.0 0 1 550.9,447.3 L539.8,453.1 Z" stroke-width="1.46" fill="#fff" />
<ellipse cx="536.6" cy="447.0" rx="4.3" ry="6.9" transform="rotate(-28.05 536.6 447.0)" stroke-width="1.46" fill="#fff"/>
<line x1="539.6" y1="443.0" x2="549.3" y2="437.9" stroke-width="0.98" />
<path d="M558.2,418.6 L566.6,415.6 Q568.2,415.4 568.2,417 L567.8,419.6 L559.6,422.6 Q558,422.6 557.8,421 Z" stroke-width="1.22" fill="#fff" />
<path d="M558.2,418.6 L559.8,420 L567.8,417.2 M559.8,420 L559.6,422.6" stroke-width="0.98" />
<circle cx="561.6" cy="419.8" r="0.8" fill="#111" stroke="none"/><circle cx="564.6" cy="418.8" r="0.8" fill="#111" stroke="none"/>
<path d="M600.9,394.6 L609.7,389.9 A15.6,9.4 62.0 0 1 624.4,417.4 L615.5,422.1 Z" stroke-width="1.22" fill="#fff" />
<line x1="617.2" y1="405.7" x2="626.0" y2="401.0" stroke-width="2.93" />
<line x1="618.7" y1="410.2" x2="627.5" y2="405.5" stroke-width="2.93" />
<line x1="619.1" y1="414.5" x2="627.9" y2="409.8" stroke-width="2.93" />
<line x1="618.5" y1="418.2" x2="627.3" y2="413.5" stroke-width="2.93" />
<line x1="616.9" y1="420.9" x2="625.7" y2="416.2" stroke-width="2.93" />
<line x1="614.4" y1="422.4" x2="623.2" y2="417.7" stroke-width="2.93" />
<line x1="599.5" y1="395.9" x2="608.4" y2="391.2" stroke-width="2.93" />
<line x1="602.0" y1="394.4" x2="610.8" y2="389.7" stroke-width="2.93" />
<line x1="605.1" y1="394.2" x2="613.9" y2="389.5" stroke-width="2.93" />
<line x1="608.5" y1="395.5" x2="617.3" y2="390.8" stroke-width="2.93" />
<line x1="611.8" y1="398.0" x2="620.6" y2="393.3" stroke-width="2.93" />
<line x1="614.8" y1="401.5" x2="623.6" y2="396.8" stroke-width="2.93" />
<path d="M623.7,400.1 L625.9,400.2 L626.6,401.7 L624.9,402.9 L625.2,403.7 L627.6,404.8 L627.9,406.3 L625.8,406.6 L625.9,407.3 L628.2,409.2 L628.2,410.6 L625.9,409.9 L625.7,410.6 L627.8,413.1 L627.4,414.3 L625.0,412.7 L624.7,413.2 L626.3,416.1 L625.5,416.9 L623.4,414.5 L623.0,414.8 L623.9,417.9 L622.9,418.2 L621.2,415.3 L620.6,415.4 L620.8,418.3 L619.7,418.1 L618.5,415.0 L617.9,414.8 L617.3,417.2 L616.2,416.6 L615.7,413.5 L615.1,413.1 L613.9,414.8 L612.8,413.8 L613.1,411.1 L612.5,410.5 L610.7,411.4 L609.8,410.0 L610.8,408.0 L610.4,407.2 L608.2,407.2 L607.5,405.6 L609.1,404.4 L608.8,403.6 L606.5,402.6 L606.2,401.1 L608.2,400.8 L608.1,400.0 L605.8,398.1 L605.9,396.7 L608.2,397.4 L608.3,396.8 L606.3,394.2 L606.7,393.1 L609.0,394.7 L609.3,394.2 L607.8,391.2 L608.5,390.5 L610.6,392.8 L611.1,392.6 L610.2,389.5 L611.2,389.2 L612.9,392.0 L613.5,392.0 L613.3,389.1 L614.4,389.3 L615.5,392.4 L616.2,392.6 L616.7,390.1 L617.9,390.8 L618.3,393.8 L618.9,394.3 L620.2,392.5 L621.3,393.6 L621.0,396.2 L621.5,396.9 L623.3,396.0 L624.3,397.3 L623.3,399.4 Z" stroke-width="1.22" />
<path d="M614.9,404.8 L617.1,404.9 L617.7,406.4 L616.1,407.6 L616.4,408.4 L618.7,409.5 L619.1,411.0 L617.0,411.3 L617.1,412.0 L619.4,413.9 L619.4,415.3 L617.0,414.6 L616.9,415.3 L618.9,417.8 L618.5,419.0 L616.2,417.4 L615.9,417.9 L617.4,420.8 L616.7,421.6 L614.6,419.2 L614.1,419.5 L615.0,422.6 L614.1,422.9 L612.3,420.0 L611.8,420.1 L612.0,423.0 L610.8,422.8 L609.7,419.7 L609.1,419.5 L608.5,421.9 L607.3,421.3 L606.9,418.3 L606.3,417.8 L605.0,419.5 L603.9,418.5 L604.2,415.8 L603.7,415.2 L601.9,416.1 L600.9,414.7 L602.0,412.7 L601.5,411.9 L599.3,411.9 L598.7,410.3 L600.3,409.1 L600.0,408.3 L597.7,407.3 L597.3,405.8 L599.4,405.5 L599.3,404.7 L597.0,402.8 L597.0,401.4 L599.4,402.1 L599.5,401.5 L597.5,398.9 L597.9,397.8 L600.2,399.4 L600.5,398.9 L599.0,395.9 L599.7,395.2 L601.8,397.5 L602.3,397.3 L601.4,394.2 L602.3,393.9 L604.1,396.7 L604.6,396.7 L604.4,393.8 L605.6,394.0 L606.7,397.1 L607.3,397.3 L607.9,394.8 L609.1,395.5 L609.5,398.5 L610.1,399.0 L611.4,397.2 L612.5,398.3 L612.2,400.9 L612.7,401.6 L614.5,400.7 L615.5,402.0 L614.4,404.1 Z" stroke-width="1.46" fill="#fff" />
<ellipse cx="608.6" cy="408.0" rx="3.8" ry="6.2" transform="rotate(-28.05 608.6 408.0)" stroke-width="1.46" fill="#fff"/>
<path d="M609.4,402.2 Q614.6,405.9 613.6,412.0 L610.6,414.0 Q612.6,408.4 609.4,402.2 Z" stroke-width="0.98" fill="#333" />
<path d="M635.7,382.2 L644.1,377.7 A9.2,5.7 62.0 0 1 652.7,393.9 L644.3,398.4 Z" stroke-width="1.46" fill="#fff" />
<ellipse cx="640.0" cy="390.3" rx="5.7" ry="9.2" transform="rotate(-28.05 640.0 390.3)" stroke-width="1.46" fill="#fff"/>
<ellipse cx="640.2" cy="390.3" rx="3.6" ry="5.8" transform="rotate(-28.05 640.2 390.3)" stroke-width="1.22"/>
<line x1="634.6" y1="385.2" x2="643.0" y2="380.7" stroke-width="1.10" />
<line x1="643.5" y1="395.8" x2="651.9" y2="391.3" stroke-width="1.10" />
<path d="M666.2,360.2 L671.1,357.6 A14.8,8.6 62.0 0 1 685.0,383.7 L680.2,386.3 Z" stroke-width="1.52" fill="#fff" />
<ellipse cx="673.2" cy="373.2" rx="8.6" ry="14.8" transform="rotate(-28.05 673.2 373.2)" stroke-width="1.52" fill="#fff"/>
<ellipse cx="673.2" cy="373.2" rx="8.6" ry="14.8" transform="rotate(-28.05 673.2 373.2)" stroke-width="1.83" fill="#fff"/>
<ellipse cx="673.2" cy="373.2" rx="6.9" ry="11.8" transform="rotate(-28.05 673.2 373.2)" stroke-width="5.12"/>
<ellipse cx="673.2" cy="373.2" rx="5.5" ry="9.5" transform="rotate(-28.05 673.2 373.2)" stroke-width="1.34"/>
<ellipse cx="673.2" cy="373.2" rx="3.4" ry="5.9" transform="rotate(-28.05 673.2 373.2)" stroke-width="2.20" fill="#fff"/>
<circle cx="679.7" cy="371.9" r="0.9" fill="#fff" stroke="#111" stroke-width="0.6"/>
<circle cx="680.9" cy="378.8" r="0.9" fill="#fff" stroke="#111" stroke-width="0.6"/>
<circle cx="678.4" cy="383.0" r="0.9" fill="#fff" stroke="#111" stroke-width="0.6"/>
<circle cx="673.5" cy="382.7" r="0.9" fill="#fff" stroke="#111" stroke-width="0.6"/>
<circle cx="668.5" cy="377.9" r="0.9" fill="#fff" stroke="#111" stroke-width="0.6"/>
<circle cx="665.7" cy="370.9" r="0.9" fill="#fff" stroke="#111" stroke-width="0.6"/>
<circle cx="666.4" cy="365.0" r="0.9" fill="#fff" stroke="#111" stroke-width="0.6"/>
<circle cx="670.2" cy="363.0" r="0.9" fill="#fff" stroke="#111" stroke-width="0.6"/>
<circle cx="675.5" cy="365.7" r="0.9" fill="#fff" stroke="#111" stroke-width="0.6"/>
<path d="M672.6,366.8 A5.9,3.4 62.0 0 0 678.2,377.2" stroke-width="1.10" />
<ellipse cx="703.8" cy="358.4" rx="4.7" ry="7.4" transform="rotate(-28.05 703.8 358.4)" stroke-width="1.34" fill="#fff"/>
<ellipse cx="702.8" cy="358.9" rx="4.7" ry="7.4" transform="rotate(-28.05 702.8 358.9)" stroke-width="1.46" fill="#fff"/>
<ellipse cx="702.8" cy="358.9" rx="2.4" ry="3.8" transform="rotate(-28.05 702.8 358.9)" stroke-width="1.34"/>
<ellipse cx="892.0" cy="255.2" rx="7.1" ry="10.2" transform="rotate(-28.05 892.0 255.2)" stroke-width="1.46" fill="#fff"/>
<ellipse cx="890.0" cy="256.2" rx="7.1" ry="10.2" transform="rotate(-28.05 890.0 256.2)" stroke-width="1.59" fill="#fff"/>
<ellipse cx="890.6" cy="256.0" rx="5.3" ry="7.8" transform="rotate(-28.05 890.6 256.0)" stroke-width="1.34"/>
<path d="M888.8,248.5 A7.6,5.2 62.0 0 0 896.0,261.9" stroke-width="1.10" />
<path d="M844.6,522.7 L879.9,649.9 A55.0,18.0 -15.5 0 0 985.9,620.5 L950.6,493.3 Z" stroke-width="1.52" fill="#fff" />
<path d="M858.9,543.1 L865.2,544.0 L874.0,575.8 L867.8,574.9 Z" stroke-width="1.34" fill="#fff" />
<line x1="860.5" y1="544.6" x2="869.0" y2="575.2" stroke-width="0.85" />
<path d="M874.1,544.2 L882.4,543.5 L891.3,575.3 L882.9,576.0 Z" stroke-width="1.34" fill="#fff" />
<line x1="876.2" y1="545.2" x2="884.7" y2="575.9" stroke-width="0.85" />
<path d="M893.2,541.9 L902.4,539.8 L911.3,571.6 L902.0,573.7 Z" stroke-width="1.34" fill="#fff" />
<line x1="895.5" y1="542.6" x2="904.0" y2="573.3" stroke-width="0.85" />
<path d="M913.5,536.6 L922.3,533.4 L931.1,565.2 L922.3,568.4 Z" stroke-width="1.34" fill="#fff" />
<line x1="915.8" y1="537.1" x2="924.3" y2="567.8" stroke-width="0.85" />
<path d="M932.0,529.2 L939.1,525.3 L947.9,557.1 L940.8,561.0 Z" stroke-width="1.34" fill="#fff" />
<line x1="934.0" y1="529.5" x2="942.5" y2="560.1" stroke-width="0.85" />
<path d="M946.1,520.6 L950.4,516.7 L959.2,548.5 L954.9,552.4 Z" stroke-width="1.34" fill="#fff" />
<line x1="947.5" y1="520.9" x2="956.0" y2="551.5" stroke-width="0.85" />
<path d="M953.3,512.7 L954.3,510.2 L963.1,542.0 L962.2,544.5 Z" stroke-width="1.34" fill="#fff" />
<line x1="851.7" y1="540.4" x2="860.5" y2="572.2" stroke-width="3.90" stroke-dasharray="3 1.0" stroke-linecap="butt"/>
<line x1="849.9" y1="540.1" x2="858.7" y2="571.9" stroke-width="2.44" stroke-dasharray="2 1.2" stroke-linecap="butt"/>
<path d="M875.8,603.9 L882.0,604.7 L890.8,636.5 L884.6,635.7 Z" stroke-width="1.34" fill="#fff" />
<line x1="877.4" y1="605.3" x2="885.9" y2="635.9" stroke-width="0.85" />
<path d="M890.9,604.9 L899.3,604.2 L908.1,636.0 L899.7,636.7 Z" stroke-width="1.34" fill="#fff" />
<line x1="893.0" y1="605.9" x2="901.5" y2="636.6" stroke-width="0.85" />
<path d="M910.0,602.6 L919.3,600.5 L928.1,632.3 L918.8,634.4 Z" stroke-width="1.34" fill="#fff" />
<line x1="912.4" y1="603.3" x2="920.9" y2="634.0" stroke-width="0.85" />
<path d="M930.3,597.3 L939.1,594.2 L947.9,626.0 L939.1,629.1 Z" stroke-width="1.34" fill="#fff" />
<line x1="932.6" y1="597.8" x2="941.1" y2="628.5" stroke-width="0.85" />
<path d="M948.8,589.9 L955.9,586.0 L964.7,617.8 L957.7,621.7 Z" stroke-width="1.34" fill="#fff" />
<line x1="950.8" y1="590.2" x2="959.3" y2="620.8" stroke-width="0.85" />
<path d="M962.9,581.3 L967.2,577.4 L976.1,609.2 L971.7,613.1 Z" stroke-width="1.34" fill="#fff" />
<line x1="964.3" y1="581.6" x2="972.8" y2="612.2" stroke-width="0.85" />
<path d="M970.2,573.4 L971.2,570.9 L980.0,602.7 L979.0,605.2 Z" stroke-width="1.34" fill="#fff" />
<line x1="868.6" y1="601.1" x2="877.4" y2="632.9" stroke-width="3.90" stroke-dasharray="3 1.0" stroke-linecap="butt"/>
<line x1="866.7" y1="600.8" x2="875.5" y2="632.6" stroke-width="2.44" stroke-dasharray="2 1.2" stroke-linecap="butt"/>
<ellipse cx="898.0" cy="509.6" rx="55.4" ry="18.6" transform="rotate(-15.5 898.0 509.6)" stroke-width="1.52" fill="#fff"/>
<ellipse cx="897.6" cy="508.0" rx="54.4" ry="17.6" transform="rotate(-15.5 897.6 508.0)" stroke-width="1.52" fill="#fff"/>
<path d="M887.0,498.0 L889.4,507.6 Q891.5,510.6 896.2,509.8 Q900.8,508.6 901.8,504.6 L898.6,494.8 Z" stroke-width="1.34" fill="#fff" />
<path d="M882.2,479.4 L887.0,498.2 Q889.2,500.8 893.2,500 Q897.4,498.8 898.6,494.9 L893.6,476.9 Z" stroke-width="1.34" fill="#fff" />
<ellipse cx="887.9" cy="478.3" rx="5.9" ry="2.5" transform="rotate(-15.5 887.9 478.3)" stroke-width="1.34" fill="#fff"/>
<line x1="888.4" y1="480.6" x2="895.4" y2="508.6" stroke-width="0.98" />
<path d="M937.3,548.6 L955,610 Q958,614.5 968,612 Q980,608.5 983.6,604.5 L967.3,541.8 Z" stroke-width="1.52" fill="#fff" />
<ellipse cx="952.3" cy="545.2" rx="15.4" ry="5.2" transform="rotate(-16.5 952.3 545.2)" stroke-width="1.52" fill="#fff"/>
<path d="M948.2,586.4 Q956,590 966,586.6 Q974,583 976.6,579.6" stroke-width="1.22" />
<path d="M950.6,594.6 Q958,598.4 968,595 Q976.6,591.6 979,587.8" stroke-width="1.22" />
<path d="M969,611.8 L970.2,615.4 M974.6,609.8 L976,613.4" stroke-width="1.46" />
<path d="M867,446.6 L872.4,465.5 Q874.5,469.6 881,468.6 Q889.5,466.6 892,462.2 L887.9,443.4 Z" stroke-width="1.34" fill="#fff" />
<path d="M867.4,448.4 Q877.8,450.3 888.2,445.0" stroke-width="2.07" />
<path d="M868.2,451.3 Q878.5,453.2 888.9,447.9" stroke-width="2.07" />
<path d="M869.1,454.2 Q879.3,456.1 889.5,450.7" stroke-width="2.07" />
<path d="M869.9,457.1 Q880.0,459.0 890.2,453.6" stroke-width="2.07" />
<path d="M870.7,460.0 Q880.8,461.8 890.8,456.5" stroke-width="2.07" />
<path d="M871.6,462.9 Q881.5,464.7 891.5,459.3" stroke-width="2.07" />
<path d="M872.4,465.8 Q882.2,467.6 892.1,462.2" stroke-width="2.07" />
<ellipse cx="877.4" cy="444.6" rx="10.6" ry="4.4" transform="rotate(-15.5 877.4 444.6)" stroke-width="1.46" fill="#fff"/>
<ellipse cx="877.6" cy="444.8" rx="5.6" ry="2.3" transform="rotate(-15.5 877.6 444.8)" stroke-width="1.95"/>
<ellipse cx="872.7" cy="425.4" rx="8.7" ry="4.8" transform="rotate(-15.5 872.7 425.4)" stroke-width="1.34" fill="#fff"/>
<ellipse cx="872.9" cy="425.2" rx="5.6" ry="2.9" transform="rotate(-15.5 872.9 425.2)" stroke-width="1.22"/>
<path d="M519.0,551.4 Q518.6,549.4 520.4,548.4 L567.4,524.4 L569.8,528.6 L527.4,551.4 L532.0,574.4 L525.4,577.0 Z" stroke-width="1.34" fill="#fff" />
<path d="M521.6,551.6 L568.4,526.4 M521.6,551.6 L526.8,576.4 M524.6,552.0 L569.2,527.8 M524.6,552.0 L529.6,575.4" stroke-width="1.10" />
<path d="M521,550 L567.8,525.4" stroke-width="1.83" stroke-dasharray="2 1.4"/>
<path d="M527.5,590.4 L529.1,600.1 Q531.6,602.3 534.7,599.5 L533.3,589.8 Z" stroke-width="1.22" fill="#fff" />
<path d="M525.4,589.2 Q525.8,592.0 530.2,591.6 Q534.8,590.8 535.0,588.0" stroke-width="1.22" fill="#fff" />
<ellipse cx="530.2" cy="588.6" rx="4.8" ry="2.0" transform="rotate(-8 530.2 588.6)" stroke-width="1.34" fill="#fff"/>
<line x1="528.2" y1="588.8" x2="532.2" y2="588.3" stroke-width="0.98" />
<path d="M472.2,619.6 L473.8,629.3 Q476.3,631.5 479.4,628.7 L478.0,619.0 Z" stroke-width="1.22" fill="#fff" />
<path d="M470.5,618.4 Q470.9,621.2 474.9,620.8 Q479.1,620.0 479.3,617.2" stroke-width="1.22" fill="#fff" />
<ellipse cx="474.9" cy="617.8" rx="4.4" ry="1.8" transform="rotate(-8 474.9 617.8)" stroke-width="1.34" fill="#fff"/>
<line x1="472.9" y1="618.0" x2="476.9" y2="617.5" stroke-width="0.98" />
<path d="M478.5,639.6 L522.9,614.9 Q528,613.8 533.1,616.4 L547.6,627.3 Q552.4,631.8 552,637.5 L540.4,644.7 L529.5,641.8 L527.3,633.1 L533.1,625.8 L493.1,648.4 L496.7,666.5 L486.5,673.1 L474.9,669.5 L472.7,660.7 Z" stroke-width="1.46" fill="#fff" />
<path d="M488,641.1 L532.4,619.3 L547,630.6" stroke-width="1.46" />
<path d="M532.4,619.3 L533.1,625.8" stroke-width="1.10" />
<path d="M533.1,625.8 L540.0,643.6" stroke-width="1.46" />
<path d="M547.4,630.8 L540.4,644.7" stroke-width="1.10" />
<path d="M478.5,639.6 L488,641.1 L493.1,648.4 M478.5,639.6 L483.6,672.2 M488,641.1 L486.5,673.1" stroke-width="1.46" />
<path d="M472.7,660.7 L483,662.6" stroke-width="1.10" />
<rect x="474.6" y="661.6" width="4.2" height="1.8" fill="#111" stroke="none"/>
<path d="M511.7,663.2 L513.3,669.4 Q516.3,671.6 519.9,668.8 L518.5,662.6 Z" stroke-width="1.22" fill="#fff" />
<path d="M507.9,662.0 Q508.3,664.8 514.9,664.4 Q521.7,663.6 521.9,660.8" stroke-width="1.22" fill="#fff" />
<ellipse cx="514.9" cy="661.4" rx="7.0" ry="2.9" transform="rotate(-8 514.9 661.4)" stroke-width="1.34" fill="#fff"/>
<line x1="512.9" y1="661.6" x2="516.9" y2="661.1" stroke-width="0.98" />
<path d="M440.9,758.0 L456.9,733.3 L600.0,657.7 L643.6,670.0 L677.7,713.6 L718.0,879.4 L573.6,955.5 L472.2,926.6 Z" stroke-width="1.59" fill="#fff" />
<line x1="456.9" y1="733.3" x2="600.0" y2="657.7" stroke-width="2.56" />
<path d="M456.9,733.3 L502.7,744.2 L533.3,782.7 L573.6,955.5" stroke-width="1.59" />
<path d="M458.4,735.9 L501.5,747.0 L530.9,784.3000000000001 L571.0,954.7" stroke-width="1.22" />
<line x1="504.7" y1="742.8" x2="643.6" y2="670.0" stroke-width="1.59" />
<line x1="507.1" y1="746.6" x2="646.2" y2="672.6" stroke-width="1.22" />
<line x1="533.3" y1="782.1" x2="677.7" y2="713.6" stroke-width="1.59" />
<line x1="535.9" y1="788.1" x2="678.7" y2="718.2" stroke-width="1.22" />
<ellipse cx="509.3" cy="742.7" rx="3.4" ry="2.6" transform="rotate(-20 509.3 742.7)" stroke-width="1.22" fill="#fff"/>
<path d="M481.6,750.6 Q482.6,749.4 484.0,750.6 Q485.4,753.8 485.6,756.0 Q492.4,759.6 495.0,768.6 Q496.8,777.4 491.6,781.2 Q486.6,782.4 481.4,776.0 Q476.2,768.6 477.6,761.6 Q478.6,757.6 482.4,756.2 Q481.2,753.4 481.6,750.6 Z" stroke-width="1.59" />
<line x1="478.6" y1="771.8" x2="491.2" y2="767.4" stroke-width="1.22" />
<ellipse cx="464.5" cy="749.3" rx="1.5" ry="2.4" transform="rotate(-20 464.5 749.3)" stroke-width="1.22" fill="#555"/>
<ellipse cx="500.8" cy="758.7" rx="1.5" ry="2.4" transform="rotate(-20 500.8 758.7)" stroke-width="1.22" fill="#555"/>
<ellipse cx="491.8" cy="796.5" rx="1.5" ry="2.4" transform="rotate(-20 491.8 796.5)" stroke-width="1.22" fill="#555"/>
<ellipse cx="499.2" cy="728.2" rx="3.4" ry="1.2" transform="rotate(-14 499.2 728.2)" stroke-width="1.22" fill="#222"/>
<ellipse cx="553.8" cy="699.0" rx="3.4" ry="1.2" transform="rotate(-14 553.8 699.0)" stroke-width="1.22" fill="#222"/>
<ellipse cx="525.4" cy="703.6" rx="2.8" ry="1.4" transform="rotate(-10 525.4 703.6)" stroke-width="1.22"/>
<g transform="translate(0.00,0.00)">
<path d="M616.4,801.8 C616.0,796 617.4,790 621.0,786.3 L654.5,768 C660,766 665.5,767.4 666.7,770.7 C667.8,773 668.0,775 667.6,776.8 L664.6,779.6 L628.4,798.6 L623.5,799.8 Z" stroke-width="1.89" fill="#fff" />
<path d="M623.5,799.8 C623,794 624,789.6 626.9,786.6 L655.6,771.4 C660,770 663.5,771.5 664.4,773.6 L664.8,778.6" stroke-width="1.40" />
</g>
<g transform="translate(4.36,17.72)">
<path d="M616.4,801.8 C616.0,796 617.4,790 621.0,786.3 L654.5,768 C660,766 665.5,767.4 666.7,770.7 C667.8,773 668.0,775 667.6,776.8 L664.6,779.6 L628.4,798.6 L623.5,799.8 Z" stroke-width="1.89" fill="#fff" />
<path d="M623.5,799.8 C623,794 624,789.6 626.9,786.6 L655.6,771.4 C660,770 663.5,771.5 664.4,773.6 L664.8,778.6" stroke-width="1.40" />
</g>
<g transform="translate(8.72,35.44)">
<path d="M616.4,801.8 C616.0,796 617.4,790 621.0,786.3 L654.5,768 C660,766 665.5,767.4 666.7,770.7 C667.8,773 668.0,775 667.6,776.8 L664.6,779.6 L628.4,798.6 L623.5,799.8 Z" stroke-width="1.89" fill="#fff" />
<path d="M623.5,799.8 C623,794 624,789.6 626.9,786.6 L655.6,771.4 C660,770 663.5,771.5 664.4,773.6 L664.8,778.6" stroke-width="1.40" />
</g>
<g transform="translate(13.08,53.16)">
<path d="M616.4,801.8 C616.0,796 617.4,790 621.0,786.3 L654.5,768 C660,766 665.5,767.4 666.7,770.7 C667.8,773 668.0,775 667.6,776.8 L664.6,779.6 L628.4,798.6 L623.5,799.8 Z" stroke-width="1.89" fill="#fff" />
<path d="M623.5,799.8 C623,794 624,789.6 626.9,786.6 L655.6,771.4 C660,770 663.5,771.5 664.4,773.6 L664.8,778.6" stroke-width="1.40" />
</g>
<g transform="translate(17.44,70.88)">
<path d="M616.4,801.8 C616.0,796 617.4,790 621.0,786.3 L654.5,768 C660,766 665.5,767.4 666.7,770.7 C667.8,773 668.0,775 667.6,776.8 L664.6,779.6 L628.4,798.6 L623.5,799.8 Z" stroke-width="1.89" fill="#fff" />
<path d="M623.5,799.8 C623,794 624,789.6 626.9,786.6 L655.6,771.4 C660,770 663.5,771.5 664.4,773.6 L664.8,778.6" stroke-width="1.40" />
</g>
<g transform="translate(21.80,88.60)">
<path d="M616.4,801.8 C616.0,796 617.4,790 621.0,786.3 L654.5,768 C660,766 665.5,767.4 666.7,770.7 C667.8,773 668.0,775 667.6,776.8 L664.6,779.6 L628.4,798.6 L623.5,799.8 Z" stroke-width="1.89" fill="#fff" />
<path d="M623.5,799.8 C623,794 624,789.6 626.9,786.6 L655.6,771.4 C660,770 663.5,771.5 664.4,773.6 L664.8,778.6" stroke-width="1.40" />
</g>
<ellipse cx="583.2" cy="892.7" rx="1.6" ry="2.4" transform="rotate(-15 583.2 892.7)" stroke-width="1.22"/>
<ellipse cx="590.8" cy="922.7" rx="1.4" ry="2.0" transform="rotate(-15 590.8 922.7)" stroke-width="1.22"/>
<circle cx="596.8" cy="907.7" r="1.6" fill="#111" stroke="none"/>
<circle cx="579.9" cy="916.7" r="1.6" fill="#111" stroke="none"/>
<circle cx="601.5" cy="927.6" r="1.6" fill="#111" stroke="none"/>
<circle cx="584.5" cy="937.2" r="1.6" fill="#111" stroke="none"/>
<circle cx="678.6" cy="725.4" r="0.8" fill="#111" stroke="none"/>
<path d="M510.7,698.4 L509.7,728.6 Q511,731.2 514.6,731 Q518.6,730.4 519.5,728.2 L520.9,698.4 Z" stroke-width="1.34" fill="#fff" />
<path d="M509.9,708.6 L509.7,728.6 Q511,731.2 514.6,731 Q518.6,730.4 519.5,728.2 L520.3,708 Z" stroke-width="0.98" fill="#222" />
<line x1="511.6" y1="711.0" x2="518.4" y2="710.6" stroke-width="0.85" stroke="#ddd"/>
<line x1="511.6" y1="714.3" x2="518.4" y2="713.9" stroke-width="0.85" stroke="#ddd"/>
<line x1="511.6" y1="717.6" x2="518.4" y2="717.2" stroke-width="0.85" stroke="#ddd"/>
<line x1="511.6" y1="720.9" x2="518.4" y2="720.5" stroke-width="0.85" stroke="#ddd"/>
<line x1="511.6" y1="724.2" x2="518.4" y2="723.8" stroke-width="0.85" stroke="#ddd"/>
<line x1="511.6" y1="727.5" x2="518.4" y2="727.1" stroke-width="0.85" stroke="#ddd"/>
<line x1="514.8" y1="709.0" x2="514.6" y2="730.0" stroke-width="0.85" stroke="#bbb"/>
<path d="M508.5,691.6 Q508.2,689 511,686.6 Q516,682.6 522.6,682.2 Q526.6,682.2 526.8,684 Q526.6,688.6 520.9,698.6 L510.7,698.6 Q509,695 508.5,691.6 Z" stroke-width="1.34" fill="#fff" />
<path d="M508.5,691.6 Q514,693.6 520,690.2 Q525.4,687 526.8,684" stroke-width="1.22" />
<path d="M387.8,786.6 L396.6,781.9 A2.4,1.5 62.0 0 1 398.9,786.1 L390.1,790.8 Z" stroke-width="1.22" fill="#fff" />
<path d="M385.6,785.7 L388.3,784.3 A4.2,2.6 62.0 0 1 392.2,791.7 L389.6,793.1 Z" stroke-width="1.22" fill="#fff" />
<ellipse cx="387.6" cy="789.4" rx="2.6" ry="4.2" transform="rotate(-28.05 387.6 789.4)" stroke-width="1.22" fill="#fff"/>
<line x1="387.0" y1="786.8" x2="388.2" y2="792.2" stroke-width="0.98" />
<path d="M424.8,795.4 L433.6,790.7 A2.4,1.5 62.0 0 1 435.9,794.9 L427.1,799.6 Z" stroke-width="1.22" fill="#fff" />
<path d="M422.6,794.5 L425.3,793.1 A4.2,2.6 62.0 0 1 429.2,800.5 L426.6,801.9 Z" stroke-width="1.22" fill="#fff" />
<ellipse cx="424.6" cy="798.2" rx="2.6" ry="4.2" transform="rotate(-28.05 424.6 798.2)" stroke-width="1.22" fill="#fff"/>
<line x1="424.0" y1="795.6" x2="425.2" y2="801.0" stroke-width="0.98" />
<path d="M416.4,834.8 L425.2,830.1 A2.4,1.5 62.0 0 1 427.5,834.3 L418.7,839.0 Z" stroke-width="1.22" fill="#fff" />
<path d="M414.2,833.9 L416.9,832.5 A4.2,2.6 62.0 0 1 420.8,839.9 L418.2,841.3 Z" stroke-width="1.22" fill="#fff" />
<ellipse cx="416.2" cy="837.6" rx="2.6" ry="4.2" transform="rotate(-28.05 416.2 837.6)" stroke-width="1.22" fill="#fff"/>
<line x1="415.6" y1="835.0" x2="416.8" y2="840.4" stroke-width="0.98" />
<path d="M494.5,1020.9 L637.7,944.5 L740.9,974.1 L600.9,1049.5 Z" stroke-width="1.46" fill="#fff" />
<path d="M494.5,1022.9 L600.3,1051.5 L740.9,975.7" stroke-width="1.22" />
<line x1="494.5" y1="1020.9" x2="600.9" y2="1049.5" stroke-width="2.07" />
<line x1="600.9" y1="1049.5" x2="740.9" y2="974.1" stroke-width="1.83" />
<path d="M626.8,970.5 L685.0,984.1" stroke-width="5.86" stroke-linecap="round"/>
<path d="M626.8,970.5 L685.0,984.1" stroke-width="2.81" stroke="#fff" stroke-linecap="round"/>
<path d="M627.4,971.5 L685.0,984.9" stroke-width="0.85" />
<path d="M611.8,978.6 L670.0,992.2" stroke-width="5.86" stroke-linecap="round"/>
<path d="M611.8,978.6 L670.0,992.2" stroke-width="2.81" stroke="#fff" stroke-linecap="round"/>
<path d="M612.4,979.6 L670.0,993.0" stroke-width="0.85" />
<path d="M595.5,986.8 L653.7,1000.4" stroke-width="5.86" stroke-linecap="round"/>
<path d="M595.5,986.8 L653.7,1000.4" stroke-width="2.81" stroke="#fff" stroke-linecap="round"/>
<path d="M596.1,987.8 L653.7,1001.2" stroke-width="0.85" />
<path d="M581.8,995.0 L640.0,1008.6" stroke-width="5.86" stroke-linecap="round"/>
<path d="M581.8,995.0 L640.0,1008.6" stroke-width="2.81" stroke="#fff" stroke-linecap="round"/>
<path d="M582.4,996.0 L640.0,1009.4" stroke-width="0.85" />
<path d="M564.1,1003.2 L622.3,1016.8" stroke-width="5.86" stroke-linecap="round"/>
<path d="M564.1,1003.2 L622.3,1016.8" stroke-width="2.81" stroke="#fff" stroke-linecap="round"/>
<path d="M564.7,1004.2 L622.3,1017.6" stroke-width="0.85" />
<path d="M549.1,1011.4 L607.3,1025.0" stroke-width="5.86" stroke-linecap="round"/>
<path d="M549.1,1011.4 L607.3,1025.0" stroke-width="2.81" stroke="#fff" stroke-linecap="round"/>
<path d="M549.7,1012.4 L607.3,1025.8" stroke-width="0.85" />
<path d="M652.9,1031.6 L654.5,1041.2 Q659.9,1044.2 665.5,1040.2 L666.3,1030.4 Z" stroke-width="1.22" fill="#fff" />
<ellipse cx="659.6" cy="1031.0" rx="6.8" ry="2.7" transform="rotate(-8 659.6 1031.0)" stroke-width="1.22" fill="#fff"/>
<path d="M742.5,1058.0 L744.1,1067.6 Q749.5,1070.6 755.1,1066.6 L755.9,1056.8 Z" stroke-width="1.22" fill="#fff" />
<ellipse cx="749.2" cy="1057.4" rx="6.8" ry="2.7" transform="rotate(-8 749.2 1057.4)" stroke-width="1.22" fill="#fff"/>
<path d="M664.2,1051.2 L666.4,1051.0 L668.0,1057.2 L663.8,1057.6 Z" stroke-width="1.22" fill="#fff" />
<ellipse cx="665.8" cy="1057.2" rx="2.3" ry="1.3" fill="#222" stroke="none"/>
<path d="M753.0,1078.2 L755.2,1078.0 L756.8,1084.2 L752.6,1084.6 Z" stroke-width="1.22" fill="#fff" />
<ellipse cx="754.6" cy="1084.2" rx="2.3" ry="1.3" fill="#222" stroke="none"/>
<path d="M728.2,829.4 L749.8,817.9 A5.2,3.2 62.0 0 1 754.7,827.1 L733.0,838.6 Z" stroke-width="1.22" fill="#fff" />
<ellipse cx="730.6" cy="834.0" rx="3.2" ry="5.2" transform="rotate(-28.05 730.6 834.0)" stroke-width="1.22" fill="#fff"/>
<path d="M735.3,823.6 L741.0,820.5 A7.0,4.3 62.0 0 1 747.6,832.9 L741.8,835.9 Z" stroke-width="1.34" fill="#fff" />
<ellipse cx="738.5" cy="829.8" rx="4.3" ry="7.0" transform="rotate(-28.05 738.5 829.8)" stroke-width="1.34" fill="#fff"/>
<path d="M743.0,821.1 A5.6,3.5 62.0 0 1 748.2,830.9" stroke-width="1.22" />
<path d="M746.6,819.4 A5.4,3.3 62.0 0 1 751.7,828.9" stroke-width="1.22" />
<ellipse cx="731.0" cy="833.8" rx="1.7" ry="2.8" transform="rotate(-28.05 731.0 833.8)" stroke-width="1.46" fill="#333"/>
<line x1="737.3" y1="825.4" x2="743.1" y2="822.3" stroke-width="0.98" />
<line x1="740.1" y1="832.0" x2="745.9" y2="828.9" stroke-width="0.98" />
<path d="M765.2,822.2 Q778,808.5 800,805.4 Q822,803.6 838.6,793.2" stroke-width="1.34" />
<path d="M767.2,827.4 Q780,814.4 801,810.6 Q824,808.6 842.6,799.2" stroke-width="1.34" />
<path d="M838.2,791.6 L846.6,788.0 L850.2,797.2 L842.8,800.6 Z" stroke-width="1.34" fill="#fff" />
<line x1="840.6" y1="790.6" x2="845.0" y2="799.6" stroke-width="1.10" />
<path d="M846.6,788.0 L853.0,784.6 Q850.2,775.2 847.6,768.4 L847.2,764.8 Q852,761.4 861.4,762.2 L868.2,762.8 Q870.6,768.6 871.2,776.2 Q868.8,786.8 862.6,792.6 L850.2,797.2 Z" stroke-width="1.34" fill="#fff" />
<path d="M853.0,784.6 Q858.6,782.4 860.4,777.6 Q861.2,771.6 859.4,766.8 L847.6,768.4" stroke-width="1.10" />
<path d="M859.4,766.8 Q864.6,767.6 868.2,762.8" stroke-width="1.10" />
<path d="M849.6,764.2 L847.6,750.6 L850.2,750.0 L852.6,763.4" stroke-width="1.22" fill="#fff" />
<path d="M857.6,762.6 L856.2,752.2 L858.8,751.8 L860.6,762.4" stroke-width="1.22" fill="#fff" />
<path d="M780.7,941.0 L793.1,932.5 L800.1,934.1 L803.6,938.0 L803.4,946.0 L794.4,949.4 L784.2,948.4 Z" stroke-width="1.22" fill="#fff" />
<path d="M780.7,941.0 L790.5,940.1 L797.0,935.0 M790.5,940.1 L791.2,949.0" stroke-width="1.10" />
<ellipse cx="800.2" cy="942.0" rx="4.3" ry="6.2" transform="rotate(-12 800.2 942.0)" stroke-width="2.32" fill="#fff"/>
<ellipse cx="800.4" cy="942.2" rx="2.0" ry="3.0" transform="rotate(-12 800.4 942.2)" stroke-width="1.71" fill="#333"/>
<circle cx="779.6" cy="942.4" r="1.1" fill="#111" stroke="none"/>
<path d="M813.0,971.0 Q812.2,966.4 816.4,964.0 L826.0,960.6 Q830.4,960.0 833.6,962.4 L836.0,990.6 L826.6,992.0 L816.8,988.6 Z" stroke-width="1.40" fill="#fff" />
<path d="M826.6,992.0 L824.4,966.0 Q824.8,963.0 829.0,961.0" stroke-width="1.10" />
<path d="M830.2,968.4 Q830.0,966.0 832.0,965.0 L848.6,961.0 Q851.0,960.6 852.0,962.8 L859.6,991.2 Q860.0,993.6 857.6,994.4 L840.0,1000.2 Q837.4,1000.8 836.6,998.4 Z" stroke-width="1.40" fill="#fff" />
<path d="M832.6,969.6 L849.4,964.4 L856.8,991.4 L839.4,997.0 Z" stroke-width="1.10" />
<path d="M828.0,966.6 L830.2,968.4 M829.6,964.0 L834.2,998.8 L836.6,998.4" stroke-width="1.10" />
<ellipse cx="845.4" cy="981.0" rx="5.8" ry="8.2" transform="rotate(-12 845.4 981.0)" stroke-width="1.95" fill="#fff"/>
<path d="M846.2,975.0 L852.6,973.2 L860.6,996.6 L852.2,999.0 L848.6,988.0 Z" stroke-width="1.40" fill="#fff" />
<line x1="852.6" y1="973.2" x2="856.4" y2="997.8" stroke-width="0.98" />
<path d="M234.3,65.2 L282.5,271.1 L693.6,51.8 L714.5,146.4" stroke-width="1.16" />
<path d="M223.6,426.4 L838.6,100.2 L863.2,147.3 L234.8,483.6 L286.8,580.5 L919.1,243.2 L949.5,300.5 L349.1,621.4 L440.5,794.5 L488,771" stroke-width="1.16" />
<path d="M843.6,333.6 L893.6,506" stroke-width="1.16" />
<text transform="translate(302.9,65.3) scale(0.76,1)" font-size="23.8">43</text>
<text transform="translate(428.7,103.1) scale(0.76,1)" font-size="23.8">42</text>
<text transform="translate(776.7,57.5) scale(0.76,1)" font-size="23.8">1</text>
<text transform="translate(659.7,106.5) scale(0.76,1)" font-size="23.8">2</text>
<text transform="translate(592.0,144.0) scale(0.76,1)" font-size="23.8">3</text>
<text transform="translate(548.7,167.0) scale(0.76,1)" font-size="23.8">4</text>
<text transform="translate(486.9,200.2) scale(0.76,1)" font-size="23.8">5</text>
<text transform="translate(431.5,229.2) scale(0.76,1)" font-size="23.8">6</text>
<text transform="translate(397.4,247.4) scale(0.76,1)" font-size="23.8">7</text>
<text transform="translate(359.7,268.0) scale(0.76,1)" font-size="23.8">8</text>
<text transform="translate(271.1,315.4) scale(0.76,1)" font-size="23.8">9</text>
<text transform="translate(190.1,359.0) scale(0.76,1)" font-size="23.8">10</text>
<text transform="translate(849.7,190.0) scale(0.76,1)" font-size="23.8">11</text>
<text transform="translate(748.3,244.2) scale(0.76,1)" font-size="23.8">12</text>
<text transform="translate(660.2,290.5) scale(0.76,1)" font-size="23.8">13</text>
<text transform="translate(636.5,303.7) scale(0.76,1)" font-size="23.8">14</text>
<text transform="translate(601.1,321.8) scale(0.76,1)" font-size="23.8">15</text>
<text transform="translate(569.2,339.0) scale(0.76,1)" font-size="23.8">16</text>
<text transform="translate(543.8,354.5) scale(0.76,1)" font-size="23.8">17</text>
<text transform="translate(519.3,365.4) scale(0.76,1)" font-size="23.8">18</text>
<text transform="translate(499.2,376.3) scale(0.76,1)" font-size="23.8">19</text>
<text transform="translate(468.3,392.7) scale(0.76,1)" font-size="23.8">20</text>
<text transform="translate(430.2,413.3) scale(0.76,1)" font-size="23.8">21</text>
<text transform="translate(394.2,433.0) scale(0.76,1)" font-size="23.8">22</text>
<text transform="translate(337.4,462.8) scale(0.76,1)" font-size="23.8">23</text>
<text transform="translate(275.5,496.9) scale(0.76,1)" font-size="23.8">24</text>
<text transform="translate(808.8,431.7) scale(0.76,1)" font-size="23.8">25</text>
<text transform="translate(808.2,461.7) scale(0.76,1)" font-size="23.8">26</text>
<text transform="translate(800.6,530.4) scale(0.76,1)" font-size="23.8">27</text>
<text transform="translate(461.4,583.5) scale(0.76,1)" font-size="23.8">28</text>
<text transform="translate(419.7,629.0) scale(0.76,1)" font-size="23.8">29</text>
<text transform="translate(414.2,673.5) scale(0.76,1)" font-size="23.8">30</text>
<text transform="translate(553.3,665.3) scale(0.76,1)" font-size="23.8">31</text>
<text transform="translate(436.1,713.6) scale(0.76,1)" font-size="23.8">32</text>
<text transform="translate(751.2,679.9) scale(0.76,1)" font-size="23.8">33</text>
<text transform="translate(730.2,774.0) scale(0.76,1)" font-size="23.8">34</text>
<text transform="translate(797.0,765.0) scale(0.76,1)" font-size="23.8">35</text>
<text transform="translate(844.7,923.1) scale(0.76,1)" font-size="23.8">36</text>
<text transform="translate(893.8,962.1) scale(0.76,1)" font-size="23.8">37</text>
<text transform="translate(736.4,922.6) scale(0.76,1)" font-size="23.8">38</text>
<text transform="translate(791.9,1061.7) scale(0.76,1)" font-size="23.8">39</text>
<text transform="translate(800.6,1090.0) scale(0.76,1)" font-size="23.8">40</text>
<text transform="translate(342.8,799.5) scale(0.76,1)" font-size="23.8">41</text>
<line x1="301.8" y1="60.4" x2="256.8" y2="92.3" stroke-width="1.16" />
<line x1="429.0" y1="95.3" x2="385.5" y2="120.0" stroke-width="1.16" />
<line x1="781.4" y1="59.0" x2="811.4" y2="108.2" stroke-width="1.16" />
<line x1="666.8" y1="108.2" x2="695.5" y2="160.0" stroke-width="1.16" />
<line x1="601.0" y1="145.5" x2="632.3" y2="201.4" stroke-width="1.16" />
<line x1="557.3" y1="167.3" x2="587.3" y2="230.0" stroke-width="1.16" />
<line x1="494.5" y1="201.4" x2="527.3" y2="257.3" stroke-width="1.16" />
<line x1="438.6" y1="230.0" x2="474.0" y2="292.7" stroke-width="1.16" />
<line x1="405.9" y1="247.7" x2="438.6" y2="306.4" stroke-width="1.16" />
<line x1="368.2" y1="268.2" x2="395.5" y2="314.5" stroke-width="1.16" />
<line x1="279.5" y1="315.9" x2="308.2" y2="367.7" stroke-width="1.16" />
<line x1="200.5" y1="359.5" x2="220.9" y2="397.7" stroke-width="1.16" />
<line x1="860.5" y1="192.7" x2="887.7" y2="251.4" stroke-width="1.16" />
<line x1="757.7" y1="247.0" x2="794.5" y2="320.0" stroke-width="1.16" />
<line x1="670.9" y1="293.6" x2="702.3" y2="355.0" stroke-width="1.16" />
<line x1="647.7" y1="305.9" x2="673.6" y2="359.1" stroke-width="1.16" />
<line x1="612.3" y1="325.0" x2="639.5" y2="382.3" stroke-width="1.16" />
<line x1="579.5" y1="342.7" x2="605.5" y2="389.1" stroke-width="1.16" />
<line x1="555.0" y1="359.1" x2="563.2" y2="413.6" stroke-width="1.16" />
<line x1="528.6" y1="370.0" x2="553.2" y2="425.9" stroke-width="1.16" />
<line x1="509.5" y1="380.9" x2="532.7" y2="413.6" stroke-width="1.16" />
<line x1="480.9" y1="395.9" x2="506.8" y2="450.5" stroke-width="1.16" />
<line x1="441.4" y1="417.7" x2="470.0" y2="473.6" stroke-width="1.16" />
<line x1="404.5" y1="436.8" x2="430.5" y2="485.9" stroke-width="1.16" />
<line x1="348.6" y1="466.8" x2="375.9" y2="517.3" stroke-width="1.16" />
<line x1="287.3" y1="500.9" x2="314.5" y2="555.5" stroke-width="1.16" />
<line x1="826.8" y1="424.0" x2="865.0" y2="425.9" stroke-width="1.16" />
<line x1="826.8" y1="454.0" x2="867.7" y2="455.9" stroke-width="1.16" />
<line x1="821.4" y1="523.3" x2="844.5" y2="524.9" stroke-width="1.16" />
<line x1="485.5" y1="572.3" x2="520.9" y2="565.5" stroke-width="1.16" />
<line x1="440.5" y1="622.2" x2="473.2" y2="623.3" stroke-width="1.16" />
<line x1="435.0" y1="667.7" x2="475.9" y2="663.1" stroke-width="1.16" />
<line x1="552.3" y1="658.2" x2="520.9" y2="663.1" stroke-width="1.16" />
<line x1="458.2" y1="704.5" x2="510.0" y2="695.0" stroke-width="1.16" />
<line x1="752.0" y1="679.0" x2="681.8" y2="721.8" stroke-width="1.16" />
<line x1="738.1" y1="779.1" x2="738.1" y2="825.5" stroke-width="1.16" />
<line x1="806.8" y1="768.2" x2="806.8" y2="805.0" stroke-width="1.16" />
<line x1="843.6" y1="918.2" x2="801.4" y2="935.9" stroke-width="1.16" />
<line x1="890.0" y1="953.6" x2="857.3" y2="970.0" stroke-width="1.16" />
<line x1="733.2" y1="920.4" x2="682.7" y2="963.6" stroke-width="1.16" />
<line x1="788.6" y1="1054.5" x2="755.9" y2="1058.6" stroke-width="1.16" />
<line x1="796.8" y1="1082.6" x2="757.3" y2="1082.6" stroke-width="1.16" />
<line x1="364.1" y1="792.4" x2="384.5" y2="790.5" stroke-width="1.16" />
<rect x="361" y="0" width="7" height="1.3" fill="#111" stroke="none"/>
<path d="M519,1100 C521,1097 527,1096 533.5,1096.3 L533.5,1100" stroke-width="1.46" />
</svg>
</body></html>
